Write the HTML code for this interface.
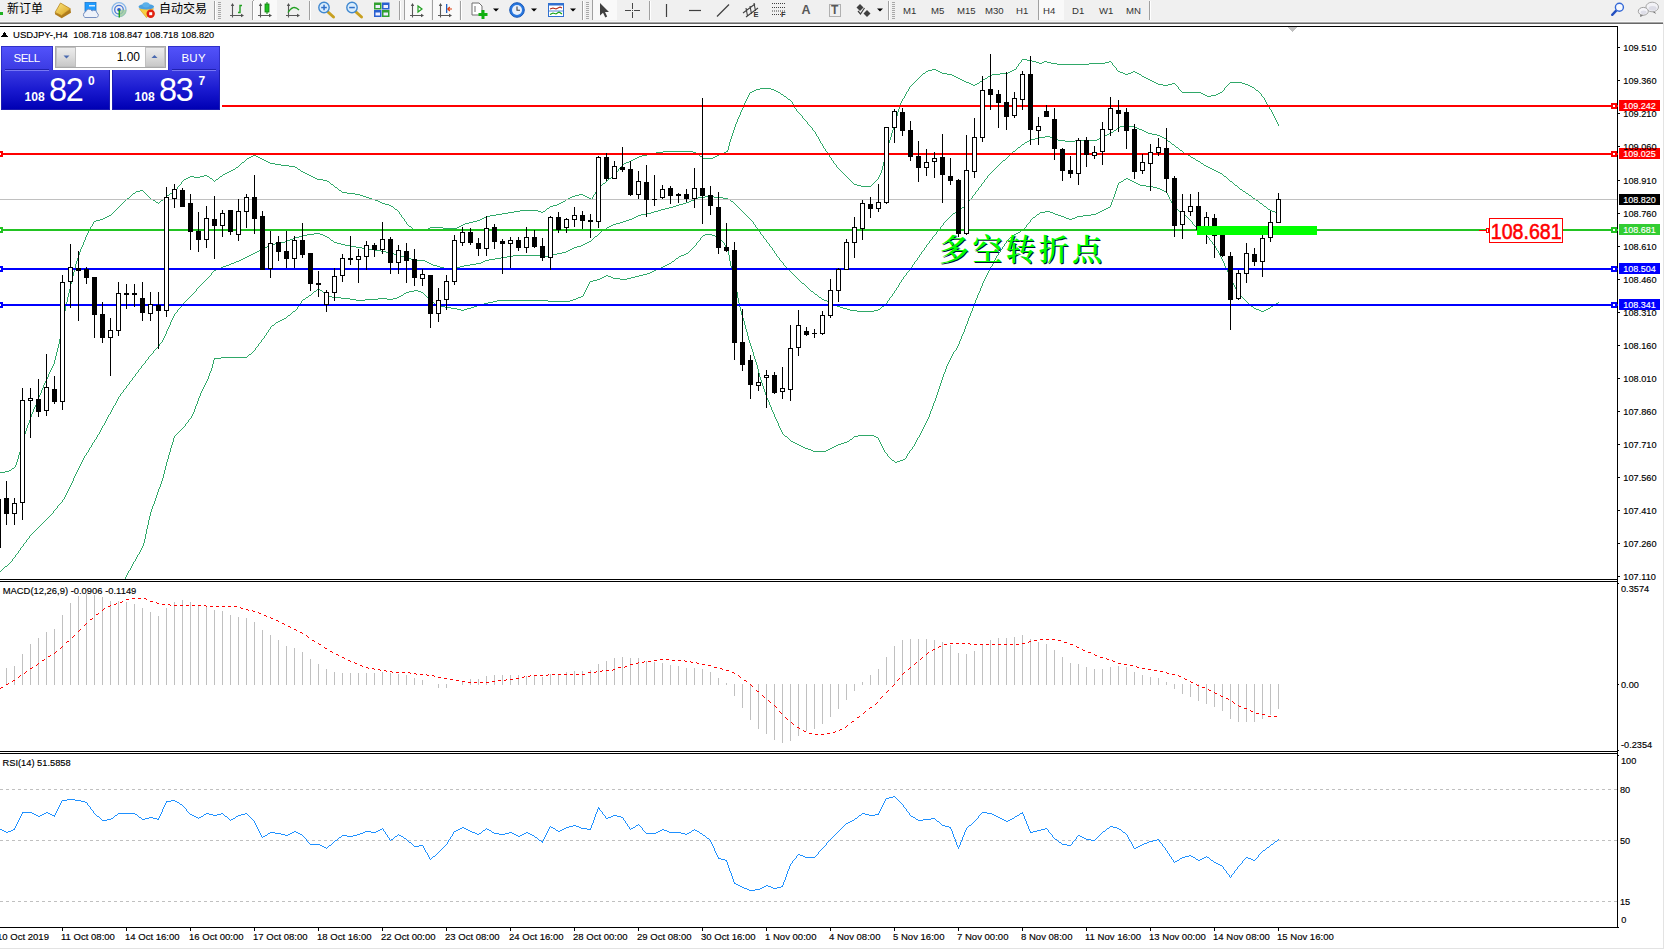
<!DOCTYPE html>
<html><head><meta charset="utf-8"><title>USDJPY-,H4</title>
<style>
html,body{margin:0;padding:0;background:#fff;}
body{width:1664px;height:950px;position:relative;overflow:hidden;font-family:"Liberation Sans","Noto Sans CJK SC",sans-serif;}
.chart{position:absolute;left:0;top:0;}
.chart text{white-space:pre;}

.tb{position:absolute;left:0;top:0;width:1664px;height:24px;background:#f0f0f0;}
.tb .l1{position:absolute;left:0;top:21px;width:1663px;height:1px;background:#f8f8f8;}
.tb .l2{position:absolute;left:0;top:22px;width:1663px;height:1px;background:#a6a6a6;}
.tb .l3{position:absolute;left:0;top:23px;width:1663px;height:1px;background:#686868;}
.tb span{position:absolute;white-space:pre;color:#000;}
.tb .cj{font-size:12px;top:1px;line-height:17px;font-family:"Liberation Sans","Noto Sans CJK SC",sans-serif;}
.tb .tf{font-size:9.6px;top:4px;line-height:13px;color:#333;}
.tb .sel{position:absolute;top:0;height:20px;background:#f9f9f9;border-left:1px solid #a0a0a0;box-sizing:border-box;}
.tbi{position:absolute;left:0;top:0;}
.edge-r{position:absolute;left:1663px;top:23px;width:1px;height:926px;background:#e3e3e3;}
.edge-b{position:absolute;left:0;top:948px;width:1664px;height:1px;background:#e3e3e3;}


.oc{position:absolute;left:0;top:44px;width:222px;height:67px;background:#fff;}
.oc div{position:absolute;box-sizing:border-box;}
.oc .tab{top:2px;height:25px;background:linear-gradient(#5252fa,#3a3ae2);border:1px solid #3030c8;border-bottom:none;}
.oc .big{top:26px;height:40px;background:linear-gradient(#3a3ae2,#1a1ad0 50%,#0000b4);border:1px solid #1c1cb0;border-top:none}
.oc .ul{height:1px;top:26px;background:#7878f4;}
.oc .ul0{height:1px;top:25px;background:#2020b0;}
.oc span{position:absolute;color:#fff;white-space:pre;line-height:1;}
.oc .lbl{font-size:11.5px;top:8.6px;letter-spacing:-0.5px;}
.oc .s108{font-size:12.1px;font-weight:bold;top:47.4px;}
.oc .big2{font-size:32.5px;top:29.7px;letter-spacing:-1.2px;}
.oc .sup{font-size:12px;font-weight:bold;top:31.1px;}
.oc .spin{left:55px;top:2px;width:111px;height:22px;border:1px solid #a8a8a8;background:#fff;}
.oc .btn{top:0px;width:20px;height:20px;background:linear-gradient(#ececec,#dcdcdc 50%,#c8c8c8);border:1px solid #c0c0c0;}
.oc .vol{position:absolute;right:25px;top:3.5px;font-size:12px;color:#000;}

</style></head><body>
<div class="tb"><div class="l1"></div><div class="l2"></div><div class="l3"></div><div class="sel" style="left:253px;width:24px"></div><div class="sel" style="left:404px;width:27px"></div><div class="sel" style="left:432px;width:27px"></div><div class="sel" style="left:592px;width:25px"></div><div class="sel" style="left:1038px;width:26px"></div><svg class="tbi" width="1664" height="22" viewBox="0 0 1664 22"><rect x="0" y="12" width="3" height="3" fill="#20b020"/><defs><linearGradient id="gb" x1="0" y1="0" x2="1" y2="1"><stop offset="0" stop-color="#fbe680"/><stop offset="1" stop-color="#d9a11c"/></linearGradient></defs><polygon points="55.1,12.4 61.5,15.3 70.4,8.8 71,12.8 61.7,18.3 55,14.2" fill="#b07c1c"/><polygon points="60.5,3 70.4,8.8 61.5,15.5 55.1,12.4" fill="url(#gb)" stroke="#b8861e" stroke-width="0.8"/><rect x="85" y="2.5" width="11" height="9" fill="#1e9bff" stroke="#1878d0" stroke-width="0.8"/><rect x="89" y="5" width="6" height="1.5" fill="#d8efff"/><path d="M85 17.5 a3 3 0 0 1 0.5 -5.5 a3.5 3.5 0 0 1 6.5 -1 a3 3 0 0 1 5 2 a2.4 2.4 0 0 1 -0.5 4.5 z" fill="#eef2fa" stroke="#7890c0" stroke-width="1"/><circle cx="119" cy="9.7" r="7" fill="none" stroke="#88b8e8" stroke-width="1.2"/><circle cx="119" cy="9.7" r="4.3" fill="none" stroke="#4878d8" stroke-width="1.3"/><path d="M119 9.7 L119 17.3 A7.6 7.6 0 0 0 126.6 9.7 Z" fill="#9ccc9c" opacity="0.8"/><circle cx="119" cy="9.7" r="1.8" fill="#2858d0"/><rect x="118.6" y="10" width="1.4" height="7.5" fill="#20a020"/><polygon points="139.3,8.7 153.6,8.7 146.5,17.7" fill="#f8d040" stroke="#d0a020" stroke-width="0.6"/><ellipse cx="146.3" cy="6.8" rx="7.8" ry="2.8" fill="#4aa0e0"/><ellipse cx="146" cy="4.8" rx="3.6" ry="2.6" fill="#5ab0ea"/><circle cx="150.7" cy="13.7" r="4.2" fill="#e02010"/><rect x="149.2" y="12.2" width="3" height="3" fill="#fff"/><rect x="214" y="1" width="1" height="19" fill="#a0a0a0"/><rect x="215" y="1" width="1" height="19" fill="#fff"/><rect x="218" y="2" width="3" height="1" fill="#a8a8a8"/><rect x="218" y="4" width="3" height="1" fill="#a8a8a8"/><rect x="218" y="6" width="3" height="1" fill="#a8a8a8"/><rect x="218" y="8" width="3" height="1" fill="#a8a8a8"/><rect x="218" y="10" width="3" height="1" fill="#a8a8a8"/><rect x="218" y="12" width="3" height="1" fill="#a8a8a8"/><rect x="218" y="14" width="3" height="1" fill="#a8a8a8"/><rect x="218" y="16" width="3" height="1" fill="#a8a8a8"/><rect x="218" y="18" width="3" height="1" fill="#a8a8a8"/><path d="M232.5 4.5 V17.5 M230 15.5 H243" stroke="#585858" stroke-width="1.1" fill="none"/><polygon points="232.5,3 230.8,6 234.2,6" fill="#505050"/><polygon points="244,15.5 241,13.8 241,17.2" fill="#505050"/><path d="M238 12.5 h2 V5.5 h2" stroke="#20a020" stroke-width="1.4" fill="none"/><rect x="252" y="1" width="1" height="19" fill="#a0a0a0"/><rect x="253" y="1" width="1" height="19" fill="#fff"/><path d="M260.5 4.5 V17.5 M258 15.5 H271" stroke="#585858" stroke-width="1.1" fill="none"/><polygon points="260.5,3 258.8,6 262.2,6" fill="#505050"/><polygon points="272,15.5 269,13.8 269,17.2" fill="#505050"/><rect x="265" y="4" width="4" height="8" fill="#20c020" stroke="#108010" stroke-width="0.8"/><path d="M267 2 v2 M267 12 v2" stroke="#108010" stroke-width="1"/><path d="M288.5 4.5 V17.5 M286 15.5 H299" stroke="#585858" stroke-width="1.1" fill="none"/><polygon points="288.5,3 286.8,6 290.2,6" fill="#505050"/><polygon points="300,15.5 297,13.8 297,17.2" fill="#505050"/><path d="M288 12.5 Q293 4 299 10" stroke="#20a020" stroke-width="1.3" fill="none"/><rect x="309" y="1" width="1" height="19" fill="#a0a0a0"/><rect x="310" y="1" width="1" height="19" fill="#fff"/><line x1="328" y1="12" x2="333.5" y2="17" stroke="#c8a020" stroke-width="3" stroke-linecap="round"/><circle cx="324" cy="7.5" r="5.2" fill="#d8ecfc" stroke="#4088d0" stroke-width="1.4"/><rect x="321.2" y="6.8" width="5.6" height="1.5" fill="#3070c8"/><rect x="323.3" y="4.7" width="1.5" height="5.6" fill="#3070c8"/><line x1="356" y1="12" x2="361.5" y2="17" stroke="#c8a020" stroke-width="3" stroke-linecap="round"/><circle cx="352" cy="7.5" r="5.2" fill="#d8ecfc" stroke="#4088d0" stroke-width="1.4"/><rect x="349.2" y="6.8" width="5.6" height="1.5" fill="#3070c8"/><rect x="374" y="2.5" width="7.5" height="7" fill="#30a030"/><rect x="382" y="2.5" width="7.5" height="7" fill="#2860d0"/><rect x="374" y="10" width="7.5" height="7" fill="#2860d0"/><rect x="382" y="10" width="7.5" height="7" fill="#30a030"/><rect x="375.5" y="5" width="4.5" height="3" fill="#eef"/><rect x="383.5" y="5" width="4.5" height="3" fill="#eef"/><rect x="375.5" y="12.5" width="4.5" height="3" fill="#eef"/><rect x="383.5" y="12.5" width="4.5" height="3" fill="#eef"/><rect x="399" y="1" width="1" height="19" fill="#a0a0a0"/><rect x="400" y="1" width="1" height="19" fill="#fff"/><path d="M412.5 4.5 V17.5 M410 15.5 H423" stroke="#585858" stroke-width="1.1" fill="none"/><polygon points="412.5,3 410.8,6 414.2,6" fill="#505050"/><polygon points="424,15.5 421,13.8 421,17.2" fill="#505050"/><polygon points="418,6 418,12 422,9" fill="none" stroke="#20a020" stroke-width="1.2"/><path d="M440.5 4.5 V17.5 M438 15.5 H451" stroke="#585858" stroke-width="1.1" fill="none"/><polygon points="440.5,3 438.8,6 442.2,6" fill="#505050"/><polygon points="452,15.5 449,13.8 449,17.2" fill="#505050"/><rect x="446" y="4" width="1.3" height="9" fill="#2060c0"/><path d="M452 9 h-4 m1.8 -2 l-2 2 l2 2" stroke="#e04010" stroke-width="1.2" fill="none"/><rect x="460" y="1" width="1" height="19" fill="#a0a0a0"/><rect x="461" y="1" width="1" height="19" fill="#fff"/><path d="M472 3 h7 l3 3 v9 h-10 z" fill="#fff" stroke="#707070" stroke-width="1"/><path d="M475 6 v6" stroke="#707070"/><path d="M483 10 v9 M478.5 14.5 h9" stroke="#10b010" stroke-width="3"/><polygon points="493,8.5 499,8.5 496,11.5" fill="#000"/><circle cx="517" cy="10" r="7.3" fill="#2878e0" stroke="#1858b8" stroke-width="1"/><circle cx="517" cy="10" r="5" fill="#e8f0fc"/><path d="M517 6.5 v3.8 h3" stroke="#404040" stroke-width="1.1" fill="none"/><polygon points="531,8.5 537,8.5 534,11.5" fill="#000"/><rect x="548.5" y="3.5" width="15" height="13" fill="#fff" stroke="#3070d0" stroke-width="1"/><rect x="548" y="3" width="16" height="2.5" fill="#3070d0"/><path d="M550 9 l3 -1 l3 1 l4 -2 l2 1" stroke="#b02010" stroke-width="1.1" fill="none"/><path d="M550 14.5 l3 -1.5 l3 1 l3 -2 l3 2" stroke="#10a010" stroke-width="1.1" fill="none"/><path d="M549 11 h14" stroke="#3070d0" stroke-width="0.8"/><polygon points="570,8.5 576,8.5 573,11.5" fill="#000"/><rect x="582" y="1" width="1" height="19" fill="#a0a0a0"/><rect x="583" y="1" width="1" height="19" fill="#fff"/><rect x="586" y="2" width="3" height="1" fill="#a8a8a8"/><rect x="586" y="4" width="3" height="1" fill="#a8a8a8"/><rect x="586" y="6" width="3" height="1" fill="#a8a8a8"/><rect x="586" y="8" width="3" height="1" fill="#a8a8a8"/><rect x="586" y="10" width="3" height="1" fill="#a8a8a8"/><rect x="586" y="12" width="3" height="1" fill="#a8a8a8"/><rect x="586" y="14" width="3" height="1" fill="#a8a8a8"/><rect x="586" y="16" width="3" height="1" fill="#a8a8a8"/><rect x="586" y="18" width="3" height="1" fill="#a8a8a8"/><polygon points="600,3 600,15.5 603,12.8 605.3,17.5 607.2,16.6 605,12 609,12" fill="#404040"/><path d="M632.5 3 v6 M632.5 12 v6 M625 10.5 h6 M634 10.5 h6" stroke="#484848" stroke-width="1"/><rect x="632" y="10" width="1" height="1" fill="#484848"/><rect x="649" y="1" width="1" height="19" fill="#a0a0a0"/><rect x="650" y="1" width="1" height="19" fill="#fff"/><path d="M666.5 4 v13" stroke="#404040" stroke-width="1.2"/><path d="M689 10.5 h12" stroke="#404040" stroke-width="1.2"/><path d="M717 16.5 l12 -12" stroke="#404040" stroke-width="1.2"/><path d="M743 13 l12 -9 M746 17 l12 -9 M746 8 l1.5 8 M750 6 l1.5 8 M754 3 l1.5 8" stroke="#404040" stroke-width="1.1"/><path d="M772 3.5 h14 M772 7.5 h14 M772 11 h14 M772 14.5 h9" stroke="#404040" stroke-width="1" stroke-dasharray="1 1"/><path d="M829.5 4.5 h11 v12 h-11 z" fill="none" stroke="#707070" stroke-width="1" stroke-dasharray="1 1"/><polygon points="860,4 863.5,7.5 860,11 856.5,7.5" fill="#404040"/><polygon points="867,10 870.5,13.5 867,17 863.5,13.5" fill="#404040"/><path d="M858 11 l2.5 3 l4 -6" stroke="#404040" stroke-width="1.2" fill="none"/><polygon points="877,8.5 883,8.5 880,11.5" fill="#000"/><rect x="888" y="1" width="1" height="19" fill="#a0a0a0"/><rect x="889" y="1" width="1" height="19" fill="#fff"/><rect x="892" y="2" width="3" height="1" fill="#a8a8a8"/><rect x="892" y="4" width="3" height="1" fill="#a8a8a8"/><rect x="892" y="6" width="3" height="1" fill="#a8a8a8"/><rect x="892" y="8" width="3" height="1" fill="#a8a8a8"/><rect x="892" y="10" width="3" height="1" fill="#a8a8a8"/><rect x="892" y="12" width="3" height="1" fill="#a8a8a8"/><rect x="892" y="14" width="3" height="1" fill="#a8a8a8"/><rect x="892" y="16" width="3" height="1" fill="#a8a8a8"/><rect x="892" y="18" width="3" height="1" fill="#a8a8a8"/><rect x="1149" y="1" width="1" height="19" fill="#a0a0a0"/><rect x="1150" y="1" width="1" height="19" fill="#fff"/><line x1="1616.4" y1="10.4" x2="1612.2" y2="14.8" stroke="#2450c0" stroke-width="2.4" stroke-linecap="round"/><circle cx="1619.4" cy="7.2" r="4" fill="#f6f9ff" stroke="#3468d6" stroke-width="1.4"/><polygon points="1654,10.5 1656.2,14 1651.8,11.5" fill="#707070"/><ellipse cx="1652.2" cy="7" rx="6.3" ry="4.8" fill="#f2f2f6" stroke="#a8a8a8" stroke-width="1"/><ellipse cx="1652.6" cy="8.3" rx="4" ry="2.4" fill="#dcdce6"/><polygon points="1640.2,13.5 1640.3,17 1644,15" fill="#707070"/><ellipse cx="1643.3" cy="11.3" rx="5" ry="3.9" fill="#f4f4f8" stroke="#a0a0a0" stroke-width="1"/><ellipse cx="1643.6" cy="12.3" rx="3" ry="1.8" fill="#dedee8"/></svg><span class="cj" style="left:7px">新订单</span><span class="cj" style="left:159px">自动交易</span><span style="left:801.5px;top:2px;font-size:12.5px;line-height:17px;color:#585858;font-weight:bold">A</span><span style="left:831px;top:3px;font-size:12px;line-height:15px;color:#585858;font-weight:bold">T</span><span style="left:753.5px;top:11px;font-size:7.5px;line-height:8px;color:#303030;font-weight:bold">E</span><span style="left:781px;top:11px;font-size:7.5px;line-height:8px;color:#303030;font-weight:bold">F</span><span class="tf" style="left:903px">M1</span><span class="tf" style="left:931px">M5</span><span class="tf" style="left:957px">M15</span><span class="tf" style="left:985px">M30</span><span class="tf" style="left:1016px">H1</span><span class="tf" style="left:1043px">H4</span><span class="tf" style="left:1072px">D1</span><span class="tf" style="left:1099px">W1</span><span class="tf" style="left:1126px">MN</span></div><div class="edge-r"></div><div class="edge-b"></div>
<svg class="chart" width="1664" height="950" viewBox="0 0 1664 950"><g shape-rendering="crispEdges"><rect x="0" y="26" width="1618" height="1" fill="#000"/>
<rect x="1617" y="26" width="1" height="902" fill="#000"/>
<rect x="0" y="579" width="1618" height="1" fill="#000"/>
<rect x="0" y="581" width="1618" height="1" fill="#000"/>
<rect x="0" y="751" width="1618" height="1" fill="#000"/>
<rect x="0" y="753" width="1618" height="1" fill="#000"/>
<rect x="0" y="927" width="1618" height="1" fill="#000"/>
<polygon points="1287,27 1297,27 1292,32" fill="#c0c0c0"/>
<path d="M1057 64h32v1h-32zM947 74h5v1h-5zM992 74h8v1h-8zM1125 74h3v1h-3zM1139 74h2v1h-2zM430 227h13v1h-13zM457 227h2v1h-2zM270 163h5v1h-5zM624 163h2v1h-2zM133 193h2v1h-2zM170 193h2v1h-2zM347 193h8v1h-8zM520 210h18v1h-18zM750 92h2v1h-2zM778 92h2v1h-2zM1182 92h19v1h-19zM1220 92h2v1h-2zM969 83h2v1h-2zM977 83h2v1h-2zM1156 83h2v1h-2zM1172 83h3v1h-3zM1242 83h3v1h-3zM1201 93h2v1h-2zM1218 93h2v1h-2zM784 96h2v1h-2zM1207 96h4v1h-4zM756 89h4v1h-4zM771 89h3v1h-3zM262 159h2v1h-2zM633 159h2v1h-2zM928 70h4v1h-4zM936 70h2v1h-2zM1012 70h2v1h-2zM1205 95h2v1h-2zM1211 95h5v1h-5zM225 173h2v1h-2zM305 173h2v1h-2zM233 169h2v1h-2zM298 169h2v1h-2zM96 220h4v1h-4zM477 220h3v1h-3zM153 200h2v1h-2zM161 200h2v1h-2zM375 200h3v1h-3zM428 228h2v1h-2zM443 228h14v1h-14zM289 166h6v1h-6zM940 72h2v1h-2zM1008 72h2v1h-2zM1120 72h3v1h-3zM1131 72h2v1h-2zM1135 72h2v1h-2zM266 161h2v1h-2zM629 161h2v1h-2zM391 206h2v1h-2zM550 206h3v1h-3zM923 73h2v1h-2zM942 73h5v1h-5zM1000 73h8v1h-8zM1123 73h2v1h-2zM1128 73h3v1h-3zM1137 73h2v1h-2zM242 162h2v1h-2zM268 162h2v1h-2zM626 162h3v1h-3zM186 178h2v1h-2zM210 178h2v1h-2zM315 178h2v1h-2zM609 178h2v1h-2zM1032 61h4v1h-4zM1044 61h3v1h-3zM1109 61h2v1h-2zM275 164h6v1h-6zM1036 62h3v1h-3zM1042 62h2v1h-2zM1047 62h4v1h-4zM1105 62h4v1h-4zM366 197h3v1h-3zM570 197h2v1h-2zM587 197h2v1h-2zM954 76h2v1h-2zM988 76h2v1h-2zM1142 76h2v1h-2zM355 194h5v1h-5zM579 194h4v1h-4zM971 84h2v1h-2zM975 84h2v1h-2zM1158 84h5v1h-5zM1168 84h4v1h-4zM1245 84h3v1h-3zM247 158h2v1h-2zM260 158h2v1h-2zM635 158h2v1h-2zM703 158h10v1h-10zM0 472h5v1h-5zM973 85h2v1h-2zM1163 85h5v1h-5zM1248 85h2v1h-2zM94 221h2v1h-2zM473 221h4v1h-4zM382 203h3v1h-3zM559 203h2v1h-2zM103 218h2v1h-2zM482 218h2v1h-2zM760 88h11v1h-11zM140 190h3v1h-3zM339 190h2v1h-2zM508 212h6v1h-6zM541 212h2v1h-2zM861 186h10v1h-10zM651 153h5v1h-5zM696 153h2v1h-2zM721 153h3v1h-3zM281 165h8v1h-8zM754 90h2v1h-2zM774 90h2v1h-2zM1256 90h2v1h-2zM188 177h2v1h-2zM194 177h6v1h-6zM313 177h2v1h-2zM229 171h2v1h-2zM301 171h2v1h-2zM788 99h2v1h-2zM781 94h2v1h-2zM1203 94h2v1h-2zM1216 94h2v1h-2zM385 204h4v1h-4zM557 204h2v1h-2zM151 199h2v1h-2zM372 199h3v1h-3zM566 199h2v1h-2zM656 152h7v1h-7zM693 152h3v1h-3zM724 152h2v1h-2zM966 82h3v1h-3zM1154 82h2v1h-2zM1230 82h12v1h-12zM1022 59h5v1h-5zM952 75h2v1h-2zM990 75h2v1h-2zM342 192h5v1h-5zM253 155h3v1h-3zM642 155h5v1h-5zM717 155h2v1h-2zM236 167h2v1h-2zM295 167h2v1h-2zM156 202h2v1h-2zM380 202h2v1h-2zM561 202h2v1h-2zM190 176h4v1h-4zM200 176h4v1h-4zM207 176h2v1h-2zM220 176h2v1h-2zM311 176h2v1h-2zM413 229h15v1h-15zM926 71h2v1h-2zM938 71h2v1h-2zM1010 71h2v1h-2zM1118 71h2v1h-2zM1133 71h2v1h-2zM409 226h2v1h-2zM459 226h2v1h-2zM663 151h30v1h-30zM726 151h2v1h-2zM1027 60h5v1h-5zM857 185h4v1h-4zM1039 63h3v1h-3zM1051 63h6v1h-6zM1089 63h16v1h-16zM223 174h2v1h-2zM307 174h2v1h-2zM964 81h2v1h-2zM980 81h2v1h-2zM1152 81h2v1h-2zM958 78h2v1h-2zM985 78h2v1h-2zM1146 78h2v1h-2zM5 471h4v1h-4zM378 201h2v1h-2zM563 201h2v1h-2zM514 211h6v1h-6zM538 211h3v1h-3zM543 211h2v1h-2zM463 224h2v1h-2zM502 213h6v1h-6zM496 214h6v1h-6zM167 195h2v1h-2zM360 195h3v1h-3zM575 195h4v1h-4zM583 195h2v1h-2zM647 154h4v1h-4zM719 154h2v1h-2zM363 196h3v1h-3zM572 196h3v1h-3zM585 196h2v1h-2zM127 198h2v1h-2zM369 198h3v1h-3zM568 198h2v1h-2zM589 198h2v1h-2zM231 170h2v1h-2zM331 184h2v1h-2zM854 184h3v1h-3zM962 80h2v1h-2zM1150 80h2v1h-2zM327 181h2v1h-2zM547 208h2v1h-2zM461 225h2v1h-2zM107 216h2v1h-2zM486 216h4v1h-4zM100 219h3v1h-3zM480 219h2v1h-2zM603 183h2v1h-2zM249 157h2v1h-2zM258 157h2v1h-2zM637 157h2v1h-2zM713 157h2v1h-2zM264 160h2v1h-2zM631 160h2v1h-2zM136 191h4v1h-4zM173 191h2v1h-2zM105 217h2v1h-2zM484 217h2v1h-2zM465 223h4v1h-4zM335 187h2v1h-2zM109 215h2v1h-2zM490 215h6v1h-6zM960 79h2v1h-2zM983 79h2v1h-2zM1148 79h2v1h-2zM469 222h4v1h-4zM932 69h4v1h-4zM1014 69h2v1h-2zM12 468h2v1h-2zM204 175h3v1h-3zM309 175h2v1h-2zM323 180h4v1h-4zM251 156h2v1h-2zM256 156h2v1h-2zM639 156h3v1h-3zM700 156h2v1h-2zM715 156h2v1h-2zM1250 86h2v1h-2zM1252 87h2v1h-2zM184 179h2v1h-2zM216 179h2v1h-2zM317 179h6v1h-6zM752 91h2v1h-2zM776 91h2v1h-2zM227 172h2v1h-2zM303 172h2v1h-2zM389 205h2v1h-2zM553 205h4v1h-4zM956 77h2v1h-2zM1144 77h2v1h-2zM395 209h2v1h-2zM9 470h2v1h-2zM67 297h1v5h-1zM746 99h1v2h-1zM733 130h1v3h-1zM30 417h1v3h-1zM893 127h1v3h-1zM21 445h1v3h-1zM33 409h1v3h-1zM802 116h1v2h-1zM881 170h1v3h-1zM146 194h1v1h-1zM75 264h1v4h-1zM698 154h1v1h-1zM93 222h1v2h-1zM49 372h1v2h-1zM63 317h1v5h-1zM1255 89h1v1h-1zM1276 120h1v2h-1zM181 182h1v2h-1zM888 143h1v4h-1zM72 276h1v4h-1zM404 219h1v2h-1zM411 227h1v1h-1zM1277 122h1v2h-1zM42 388h1v2h-1zM835 164h1v1h-1zM892 130h1v3h-1zM877 179h1v1h-1zM54 360h1v4h-1zM1266 102h1v2h-1zM913 83h1v1h-1zM115 210h1v1h-1zM1112 63h1v2h-1zM71 280h1v4h-1zM780 93h1v1h-1zM1262 96h1v1h-1zM1179 89h1v1h-1zM1224 88h1v2h-1zM246 159h1v1h-1zM34 407h1v2h-1zM87 233h1v2h-1zM884 159h1v3h-1zM58 344h1v4h-1zM729 142h1v4h-1zM741 110h1v2h-1zM215 180h1v1h-1zM62 322h1v6h-1zM1016 67h1v2h-1zM403 218h1v1h-1zM66 302h1v4h-1zM165 197h1v1h-1zM131 195h1v1h-1zM594 194h1v1h-1zM29 420h1v3h-1zM618 169h1v2h-1zM407 224h1v1h-1zM135 192h1v1h-1zM57 348h1v4h-1zM883 162h1v4h-1zM812 128h1v2h-1zM820 141h1v2h-1zM25 431h1v3h-1zM84 240h1v2h-1zM896 116h1v4h-1zM1273 114h1v2h-1zM24 434h1v4h-1zM1111 62h1v1h-1zM1141 75h1v1h-1zM813 130h1v1h-1zM920 76h1v1h-1zM1269 107h1v2h-1zM748 95h1v2h-1zM176 189h1v1h-1zM179 185h1v1h-1zM17 459h1v3h-1zM838 168h1v1h-1zM41 390h1v3h-1zM70 284h1v5h-1zM53 364h1v2h-1zM83 242h1v3h-1zM219 177h1v1h-1zM801 115h1v1h-1zM917 79h1v1h-1zM737 119h1v3h-1zM621 166h1v1h-1zM872 184h1v1h-1zM61 328h1v5h-1zM169 194h1v1h-1zM728 146h1v4h-1zM740 112h1v3h-1zM845 175h1v1h-1zM16 462h1v3h-1zM40 393h1v2h-1zM816 134h1v2h-1zM122 203h1v1h-1zM837 167h1v1h-1zM1261 94h1v2h-1zM745 101h1v2h-1zM1178 87h1v2h-1zM1272 112h1v2h-1zM20 448h1v4h-1zM880 173h1v2h-1zM32 412h1v2h-1zM790 100h1v1h-1zM899 105h1v4h-1zM1265 100h1v2h-1zM613 175h1v1h-1zM794 106h1v2h-1zM602 184h1v1h-1zM48 374h1v3h-1zM28 423h1v2h-1zM90 227h1v2h-1zM1019 63h1v1h-1zM1228 84h1v1h-1zM597 190h1v1h-1zM891 133h1v4h-1zM406 222h1v2h-1zM895 120h1v3h-1zM23 438h1v3h-1zM149 197h1v1h-1zM1223 90h1v1h-1zM163 199h1v1h-1zM1226 86h1v1h-1zM74 268h1v4h-1zM86 235h1v2h-1zM823 146h1v2h-1zM1275 118h1v2h-1zM1113 65h1v1h-1zM815 132h1v2h-1zM912 84h1v1h-1zM786 97h1v1h-1zM887 147h1v4h-1zM52 366h1v2h-1zM732 133h1v3h-1zM819 139h1v2h-1zM1268 106h1v1h-1zM1177 86h1v1h-1zM65 306h1v5h-1zM1271 110h1v2h-1zM82 245h1v2h-1zM1114 66h1v1h-1zM56 352h1v4h-1zM739 115h1v2h-1zM1264 98h1v2h-1zM852 182h1v1h-1zM11 469h1v1h-1zM793 104h1v2h-1zM73 272h1v4h-1zM126 199h1v1h-1zM148 196h1v1h-1zM844 174h1v1h-1zM886 151h1v4h-1zM804 119h1v1h-1zM27 425h1v3h-1zM18 455h1v4h-1zM744 103h1v2h-1zM565 200h1v1h-1zM915 81h1v1h-1zM747 97h1v2h-1zM31 414h1v3h-1zM69 289h1v4h-1zM822 144h1v2h-1zM851 181h1v1h-1zM47 377h1v2h-1zM882 166h1v4h-1zM623 164h1v1h-1zM36 402h1v3h-1zM874 182h1v1h-1zM60 333h1v6h-1zM89 229h1v2h-1zM1018 64h1v2h-1zM1267 104h1v2h-1zM175 190h1v1h-1zM796 109h1v2h-1zM64 311h1v6h-1zM239 165h1v1h-1zM593 195h1v2h-1zM78 255h1v3h-1zM987 77h1v1h-1zM15 465h1v2h-1zM39 395h1v2h-1zM797 111h1v1h-1zM19 452h1v3h-1zM620 167h1v1h-1zM338 189h1v1h-1zM727 150h1v1h-1zM55 356h1v4h-1zM117 208h1v1h-1zM85 237h1v3h-1zM731 136h1v3h-1zM183 180h1v1h-1zM922 74h1v1h-1zM615 173h1v1h-1zM825 149h1v2h-1zM807 122h1v2h-1zM68 293h1v4h-1zM1021 60h1v2h-1zM818 137h1v2h-1zM738 117h1v2h-1zM608 179h1v1h-1zM178 186h1v1h-1zM821 143h1v1h-1zM829 155h1v2h-1zM894 123h1v4h-1zM885 155h1v4h-1zM59 339h1v5h-1zM1274 116h1v2h-1zM979 82h1v1h-1zM1116 68h1v2h-1zM919 77h1v1h-1zM337 188h1v1h-1zM213 180h1v1h-1zM814 131h1v1h-1zM1263 97h1v1h-1zM1180 90h1v1h-1zM792 102h1v2h-1zM546 209h1v1h-1zM22 441h1v4h-1zM910 86h1v1h-1zM743 105h1v3h-1zM795 108h1v1h-1zM902 99h1v2h-1zM26 428h1v3h-1zM596 191h1v1h-1zM77 258h1v3h-1zM735 124h1v3h-1zM158 203h1v1h-1zM124 201h1v1h-1zM51 368h1v2h-1zM897 112h1v4h-1zM81 247h1v2h-1zM906 92h1v2h-1zM408 225h1v1h-1zM1222 91h1v1h-1zM212 179h1v1h-1zM300 170h1v1h-1zM38 397h1v3h-1zM824 148h1v1h-1zM730 139h1v3h-1zM592 197h1v2h-1zM333 185h1v1h-1zM890 137h1v3h-1zM76 261h1v3h-1zM817 136h1v1h-1zM734 127h1v3h-1zM112 213h1v1h-1zM334 186h1v1h-1zM828 154h1v1h-1zM1270 109h1v1h-1zM143 191h1v1h-1zM80 249h1v3h-1zM839 169h1v1h-1zM791 101h1v1h-1zM43 385h1v3h-1zM599 187h1v1h-1zM46 379h1v2h-1zM898 109h1v3h-1zM1225 87h1v1h-1zM914 82h1v1h-1zM397 210h1v1h-1zM846 176h1v1h-1zM177 187h1v2h-1zM909 87h1v2h-1zM119 206h1v1h-1zM853 183h1v1h-1zM832 160h1v1h-1zM606 181h1v1h-1zM889 140h1v3h-1zM1115 67h1v1h-1zM92 224h1v2h-1zM905 94h1v2h-1zM799 113h1v1h-1zM749 93h1v2h-1zM37 400h1v2h-1zM329 182h1v1h-1zM150 198h1v1h-1zM921 75h1v1h-1zM805 120h1v1h-1zM876 180h1v1h-1zM88 231h1v2h-1zM742 108h1v2h-1zM806 121h1v1h-1zM241 163h1v1h-1zM827 152h1v2h-1zM901 101h1v2h-1zM1020 62h1v1h-1zM787 98h1v1h-1zM736 122h1v2h-1zM595 192h1v2h-1zM831 158h1v2h-1zM622 165h1v1h-1zM45 381h1v2h-1zM160 201h1v1h-1zM545 210h1v1h-1zM393 207h1v1h-1zM50 370h1v2h-1zM798 112h1v1h-1zM123 202h1v1h-1zM79 252h1v3h-1zM879 175h1v2h-1zM180 184h1v1h-1zM114 211h1v1h-1zM925 72h1v1h-1zM783 95h1v1h-1zM400 214h1v1h-1zM245 160h1v1h-1zM598 188h1v2h-1zM826 151h1v1h-1zM214 181h1v1h-1zM111 214h1v1h-1zM238 166h1v1h-1zM904 96h1v2h-1zM164 198h1v1h-1zM1258 91h1v1h-1zM1175 84h1v1h-1zM218 178h1v1h-1zM617 171h1v1h-1zM1117 70h1v1h-1zM916 80h1v1h-1zM702 157h1v1h-1zM871 185h1v1h-1zM1181 91h1v1h-1zM222 175h1v1h-1zM130 196h1v1h-1zM841 171h1v1h-1zM399 212h1v2h-1zM908 89h1v2h-1zM172 192h1v1h-1zM842 172h1v1h-1zM900 103h1v2h-1zM44 383h1v2h-1zM808 124h1v1h-1zM601 185h1v1h-1zM830 157h1v1h-1zM849 179h1v1h-1zM833 161h1v2h-1zM118 207h1v1h-1zM834 163h1v1h-1zM1227 85h1v1h-1zM144 192h1v1h-1zM878 177h1v2h-1zM840 170h1v1h-1zM145 193h1v1h-1zM398 211h1v1h-1zM35 405h1v2h-1zM612 176h1v1h-1zM402 217h1v1h-1zM121 204h1v1h-1zM1254 88h1v1h-1zM847 177h1v1h-1zM848 178h1v1h-1zM605 182h1v1h-1zM91 226h1v1h-1zM875 181h1v1h-1zM209 177h1v1h-1zM240 164h1v1h-1zM800 114h1v1h-1zM244 161h1v1h-1zM911 85h1v1h-1zM132 194h1v1h-1zM1278 124h1v2h-1zM14 467h1v1h-1zM836 165h1v2h-1zM616 172h1v1h-1zM125 200h1v1h-1zM155 201h1v1h-1zM394 208h1v1h-1zM116 209h1v1h-1zM182 181h1v1h-1zM297 168h1v1h-1zM907 91h1v1h-1zM401 215h1v2h-1zM330 183h1v1h-1zM1017 66h1v1h-1zM113 212h1v1h-1zM166 196h1v1h-1zM1229 83h1v1h-1zM918 78h1v1h-1zM903 98h1v1h-1zM873 183h1v1h-1zM159 202h1v1h-1zM619 168h1v1h-1zM549 207h1v1h-1zM811 127h1v1h-1zM129 197h1v1h-1zM1259 92h1v1h-1zM1260 93h1v1h-1zM607 180h1v1h-1zM147 195h1v1h-1zM843 173h1v1h-1zM611 177h1v1h-1zM120 205h1v1h-1zM600 186h1v1h-1zM803 118h1v1h-1zM341 191h1v1h-1zM699 155h1v1h-1zM809 125h1v1h-1zM405 221h1v1h-1zM810 126h1v1h-1zM982 80h1v1h-1zM1176 85h1v1h-1zM850 180h1v1h-1zM614 174h1v1h-1zM412 228h1v1h-1zM235 168h1v1h-1zM591 199h1v1h-1z" fill="#2fa868"/>
<path d="M247 256h2v1h-2zM401 256h3v1h-3zM507 256h6v1h-6zM544 256h4v1h-4zM698 197h7v1h-7zM714 197h9v1h-9zM616 223h4v1h-4zM229 264h2v1h-2zM431 264h2v1h-2zM470 264h6v1h-6zM271 244h4v1h-4zM341 244h4v1h-4zM583 244h2v1h-2zM857 311h17v1h-17zM1029 140h2v1h-2zM1058 140h7v1h-7zM1075 140h22v1h-22zM249 255h2v1h-2zM398 255h3v1h-3zM513 255h27v1h-27zM548 255h4v1h-4zM267 246h2v1h-2zM350 246h6v1h-6zM577 246h4v1h-4zM243 258h2v1h-2zM407 258h4v1h-4zM495 258h6v1h-6zM676 205h3v1h-3zM269 245h2v1h-2zM345 245h5v1h-5zM581 245h2v1h-2zM221 267h2v1h-2zM440 267h4v1h-4zM452 267h8v1h-8zM824 300h3v1h-3zM1013 151h2v1h-2zM1191 157h2v1h-2zM253 253h2v1h-2zM390 253h4v1h-4zM557 253h5v1h-5zM641 214h6v1h-6zM837 306h3v1h-3zM882 306h2v1h-2zM636 216h2v1h-2zM290 239h3v1h-3zM629 219h3v1h-3zM245 257h2v1h-2zM404 257h3v1h-3zM501 257h6v1h-6zM541 257h3v1h-3zM1114 130h2v1h-2zM1142 130h2v1h-2zM611 225h2v1h-2zM263 248h2v1h-2zM362 248h6v1h-6zM572 248h2v1h-2zM239 260h2v1h-2zM415 260h10v1h-10zM485 260h4v1h-4zM689 201h2v1h-2zM731 201h2v1h-2zM1240 189h2v1h-2zM265 247h2v1h-2zM356 247h6v1h-6zM574 247h3v1h-3zM658 210h3v1h-3zM958 210h2v1h-2zM1270 210h2v1h-2zM623 221h3v1h-3zM299 236h4v1h-4zM325 236h2v1h-2zM595 236h2v1h-2zM1186 154h2v1h-2zM281 242h4v1h-4zM334 242h3v1h-3zM587 242h2v1h-2zM1107 134h2v1h-2zM1152 134h5v1h-5zM829 302h2v1h-2zM705 196h9v1h-9zM822 299h2v1h-2zM218 268h3v1h-3zM444 268h8v1h-8zM850 310h7v1h-7zM874 310h4v1h-4zM307 234h7v1h-7zM320 234h3v1h-3zM654 211h4v1h-4zM1272 211h3v1h-3zM1235 185h2v1h-2zM696 198h2v1h-2zM723 198h5v1h-5zM1253 198h2v1h-2zM236 261h3v1h-3zM425 261h2v1h-2zM483 261h2v1h-2zM295 237h4v1h-4zM327 237h2v1h-2zM679 204h4v1h-4zM287 240h3v1h-3zM331 240h2v1h-2zM285 241h2v1h-2zM589 241h2v1h-2zM257 251h2v1h-2zM381 251h5v1h-5zM566 251h2v1h-2zM1035 138h4v1h-4zM1053 138h2v1h-2zM1099 138h2v1h-2zM1164 138h2v1h-2zM609 226h2v1h-2zM255 252h2v1h-2zM386 252h4v1h-4zM562 252h4v1h-4zM1031 139h4v1h-4zM1055 139h3v1h-3zM1097 139h2v1h-2zM1105 135h2v1h-2zM1157 135h3v1h-3zM691 200h3v1h-3zM1256 200h2v1h-2zM261 249h2v1h-2zM368 249h7v1h-7zM570 249h2v1h-2zM1027 141h2v1h-2zM1065 141h10v1h-10zM1168 141h2v1h-2zM665 208h4v1h-4zM1045 136h5v1h-5zM1103 136h2v1h-2zM1160 136h2v1h-2zM811 291h2v1h-2zM214 270h2v1h-2zM673 206h3v1h-3zM1264 206h2v1h-2zM241 259h2v1h-2zM411 259h4v1h-4zM489 259h6v1h-6zM1120 126h15v1h-15zM661 209h4v1h-4zM1268 209h2v1h-2zM223 266h3v1h-3zM437 266h3v1h-3zM460 266h4v1h-4zM832 304h2v1h-2zM1109 133h2v1h-2zM1148 133h4v1h-4zM226 265h3v1h-3zM433 265h4v1h-4zM464 265h6v1h-6zM602 230h2v1h-2zM638 215h3v1h-3zM819 297h2v1h-2zM293 238h2v1h-2zM216 269h2v1h-2zM620 222h3v1h-3zM651 212h3v1h-3zM955 212h2v1h-2zM1275 212h2v1h-2zM1139 129h3v1h-3zM251 254h2v1h-2zM394 254h4v1h-4zM552 254h5v1h-5zM1180 150h2v1h-2zM815 294h2v1h-2zM259 250h2v1h-2zM375 250h6v1h-6zM568 250h2v1h-2zM669 207h4v1h-4zM962 207h2v1h-2zM234 262h2v1h-2zM427 262h2v1h-2zM481 262h2v1h-2zM1214 170h2v1h-2zM1039 137h6v1h-6zM1050 137h3v1h-3zM1101 137h2v1h-2zM1162 137h2v1h-2zM632 218h2v1h-2zM1018 147h2v1h-2zM1176 147h2v1h-2zM231 263h3v1h-3zM429 263h2v1h-2zM476 263h5v1h-5zM694 199h2v1h-2zM728 199h2v1h-2zM1111 132h2v1h-2zM1146 132h2v1h-2zM1201 163h2v1h-2zM275 243h6v1h-6zM337 243h4v1h-4zM585 243h2v1h-2zM1184 153h2v1h-2zM1022 144h2v1h-2zM1172 144h2v1h-2zM607 227h2v1h-2zM1218 172h2v1h-2zM686 202h3v1h-3zM1144 131h2v1h-2zM647 213h4v1h-4zM953 213h2v1h-2zM626 220h3v1h-3zM847 309h3v1h-3zM878 309h2v1h-2zM834 305h3v1h-3zM802 283h2v1h-2zM1230 181h2v1h-2zM314 233h6v1h-6zM303 235h4v1h-4zM323 235h2v1h-2zM1118 127h2v1h-2zM1135 127h2v1h-2zM1204 165h2v1h-2zM843 308h4v1h-4zM1003 160h2v1h-2zM1196 160h2v1h-2zM1212 169h2v1h-2zM1206 166h2v1h-2zM1137 128h2v1h-2zM1220 173h2v1h-2zM1249 195h2v1h-2zM840 307h3v1h-3zM1224 176h2v1h-2zM683 203h3v1h-3zM1260 203h2v1h-2zM613 224h3v1h-3zM604 229h2v1h-2zM1193 158h2v1h-2zM1025 142h2v1h-2zM1216 171h2v1h-2zM1210 168h2v1h-2zM827 301h2v1h-2zM1188 155h2v1h-2zM1243 191h2v1h-2zM1198 161h2v1h-2zM634 217h2v1h-2zM1208 167h2v1h-2zM5 566h2v1h-2zM1246 193h2v1h-2zM960 209h1v1h-1zM169 325h1v2h-1zM196 289h1v2h-1zM1113 131h1v1h-1zM3 568h1v1h-1zM1248 194h1v1h-1zM943 223h1v2h-1zM1117 128h1v1h-1zM990 173h1v1h-1zM42 523h1v1h-1zM1229 180h1v1h-1zM62 500h1v2h-1zM141 366h1v2h-1zM174 314h1v2h-1zM177 310h1v2h-1zM978 188h1v2h-1zM760 232h1v2h-1zM1203 164h1v1h-1zM904 276h1v1h-1zM101 428h1v2h-1zM157 347h1v1h-1zM1263 205h1v1h-1zM160 343h1v1h-1zM57 506h1v2h-1zM764 238h1v1h-1zM793 274h1v1h-1zM105 421h1v2h-1zM138 370h1v2h-1zM794 275h1v1h-1zM73 478h1v3h-1zM888 300h1v1h-1zM18 551h1v2h-1zM185 301h1v1h-1zM121 393h1v1h-1zM97 435h1v2h-1zM164 336h1v2h-1zM967 202h1v2h-1zM113 406h1v2h-1zM86 453h1v2h-1zM89 448h1v2h-1zM800 281h1v1h-1zM779 258h1v2h-1zM77 470h1v2h-1zM950 216h1v1h-1zM919 255h1v2h-1zM801 282h1v1h-1zM149 356h1v1h-1zM997 166h1v1h-1zM49 516h1v1h-1zM907 272h1v1h-1zM931 239h1v1h-1zM753 222h1v2h-1zM117 399h1v2h-1zM1259 202h1v1h-1zM93 442h1v1h-1zM1195 159h1v1h-1zM129 382h1v2h-1zM109 414h1v1h-1zM132 378h1v2h-1zM738 207h1v1h-1zM188 298h1v1h-1zM947 219h1v1h-1zM994 169h1v1h-1zM891 296h1v1h-1zM168 327h1v2h-1zM973 195h1v1h-1zM778 257h1v1h-1zM37 528h1v1h-1zM939 229h1v1h-1zM942 225h1v1h-1zM1017 148h1v1h-1zM81 462h1v2h-1zM1258 201h1v1h-1zM1021 145h1v1h-1zM72 481h1v2h-1zM934 235h1v1h-1zM180 307h1v1h-1zM981 184h1v2h-1zM200 285h1v1h-1zM65 495h1v2h-1zM104 423h1v2h-1zM1008 156h1v1h-1zM163 338h1v2h-1zM763 236h1v2h-1zM120 394h1v2h-1zM1001 162h1v1h-1zM767 242h1v1h-1zM21 547h1v1h-1zM807 287h1v1h-1zM745 214h1v1h-1zM44 521h1v1h-1zM600 232h1v1h-1zM100 430h1v2h-1zM76 472h1v2h-1zM192 294h1v1h-1zM212 272h1v1h-1zM903 277h1v2h-1zM116 401h1v2h-1zM183 303h1v1h-1zM1183 152h1v1h-1zM898 285h1v2h-1zM108 415h1v2h-1zM989 174h1v1h-1zM910 268h1v1h-1zM140 368h1v1h-1zM207 278h1v1h-1zM922 251h1v1h-1zM29 536h1v2h-1zM96 437h1v2h-1zM788 269h1v1h-1zM887 301h1v2h-1zM766 240h1v2h-1zM123 390h1v2h-1zM789 270h1v1h-1zM56 508h1v1h-1zM112 408h1v2h-1zM135 374h1v2h-1zM12 559h1v2h-1zM894 291h1v2h-1zM24 543h1v1h-1zM80 464h1v2h-1zM71 483h1v2h-1zM1005 159h1v1h-1zM148 357h1v2h-1zM151 354h1v1h-1zM795 276h1v1h-1zM1179 149h1v1h-1zM796 277h1v1h-1zM143 364h1v1h-1zM67 491h1v2h-1zM949 217h1v1h-1zM781 261h1v1h-1zM32 533h1v1h-1zM751 220h1v1h-1zM92 443h1v2h-1zM159 344h1v2h-1zM591 240h1v1h-1zM333 241h1v1h-1zM752 221h1v1h-1zM984 180h1v2h-1zM755 225h1v2h-1zM187 299h1v1h-1zM806 286h1v1h-1zM817 295h1v1h-1zM99 432h1v2h-1zM969 200h1v1h-1zM88 450h1v2h-1zM51 514h1v1h-1zM1012 152h1v1h-1zM170 322h1v3h-1zM818 296h1v1h-1zM885 304h1v1h-1zM115 403h1v2h-1zM182 304h1v2h-1zM780 260h1v1h-1zM202 283h1v1h-1zM952 214h1v1h-1zM770 246h1v1h-1zM897 287h1v1h-1zM906 273h1v2h-1zM964 206h1v1h-1zM909 269h1v2h-1zM921 252h1v2h-1zM162 340h1v2h-1zM996 167h1v1h-1zM733 202h1v1h-1zM7 565h1v1h-1zM933 236h1v1h-1zM1200 162h1v1h-1zM39 526h1v1h-1zM146 360h1v1h-1zM977 190h1v1h-1zM980 186h1v1h-1zM901 280h1v2h-1zM131 380h1v1h-1zM111 410h1v2h-1zM0 571h1v1h-1zM20 548h1v2h-1zM167 329h1v2h-1zM23 544h1v2h-1zM70 485h1v2h-1zM82 460h1v2h-1zM606 228h1v1h-1zM59 504h1v1h-1zM972 196h1v2h-1zM975 192h1v2h-1zM194 292h1v1h-1zM740 209h1v1h-1zM126 386h1v2h-1zM1175 146h1v1h-1zM15 555h1v2h-1zM941 226h1v1h-1zM1178 148h1v1h-1zM75 474h1v2h-1zM107 417h1v2h-1zM154 350h1v1h-1zM54 510h1v1h-1zM769 244h1v2h-1zM912 265h1v2h-1zM936 232h1v2h-1zM166 331h1v3h-1zM66 493h1v2h-1zM924 248h1v2h-1zM1245 192h1v1h-1zM983 182h1v1h-1zM783 263h1v2h-1zM103 425h1v1h-1zM26 540h1v2h-1zM813 292h1v1h-1zM784 265h1v1h-1zM95 439h1v1h-1zM754 224h1v1h-1zM134 376h1v1h-1zM757 228h1v2h-1zM197 288h1v1h-1zM119 396h1v1h-1zM739 208h1v1h-1zM11 561h1v1h-1zM758 230h1v1h-1zM1174 145h1v1h-1zM893 293h1v1h-1zM991 172h1v1h-1zM43 522h1v1h-1zM1242 190h1v1h-1zM791 272h1v1h-1zM917 258h1v2h-1zM91 445h1v2h-1zM944 222h1v1h-1zM173 316h1v2h-1zM746 215h1v1h-1zM209 276h1v1h-1zM1010 154h1v1h-1zM900 282h1v1h-1zM189 297h1v1h-1zM809 289h1v1h-1zM747 216h1v1h-1zM1170 142h1v1h-1zM31 534h1v1h-1zM137 372h1v1h-1zM971 198h1v1h-1zM122 392h1v1h-1zM1171 143h1v1h-1zM1226 177h1v1h-1zM46 519h1v1h-1zM1007 157h1v1h-1zM14 557h1v1h-1zM790 271h1v1h-1zM896 288h1v2h-1zM106 419h1v2h-1zM153 351h1v2h-1zM966 204h1v1h-1zM85 455h1v1h-1zM165 334h1v2h-1zM932 237h1v2h-1zM768 243h1v1h-1zM808 288h1v1h-1zM145 361h1v2h-1zM10 562h1v1h-1zM110 412h1v2h-1zM34 531h1v1h-1zM1255 199h1v1h-1zM593 238h1v1h-1zM2 569h1v1h-1zM102 426h1v2h-1zM772 248h1v2h-1zM69 487h1v2h-1zM986 178h1v1h-1zM161 342h1v1h-1zM782 262h1v1h-1zM597 235h1v1h-1zM61 502h1v1h-1zM974 194h1v1h-1zM1237 186h1v1h-1zM74 476h1v2h-1zM156 348h1v1h-1zM53 511h1v2h-1zM125 388h1v1h-1zM98 434h1v1h-1zM880 308h1v1h-1zM831 303h1v1h-1zM204 281h1v1h-1zM172 318h1v2h-1zM884 305h1v1h-1zM181 306h1v1h-1zM951 215h1v1h-1zM761 234h1v1h-1zM899 283h1v2h-1zM998 165h1v1h-1zM9 563h1v1h-1zM908 271h1v1h-1zM935 234h1v1h-1zM1166 139h1v1h-1zM1116 129h1v1h-1zM920 254h1v1h-1zM41 524h1v1h-1zM64 497h1v2h-1zM797 278h1v1h-1zM1222 174h1v1h-1zM915 261h1v1h-1zM918 257h1v1h-1zM927 244h1v1h-1zM930 240h1v1h-1zM22 546h1v1h-1zM128 384h1v1h-1zM734 203h1v1h-1zM17 553h1v1h-1zM756 227h1v1h-1zM735 204h1v1h-1zM211 273h1v2h-1zM1251 196h1v1h-1zM938 230h1v1h-1zM68 489h1v2h-1zM741 210h1v1h-1zM184 302h1v1h-1zM1016 149h1v1h-1zM771 247h1v1h-1zM742 211h1v1h-1zM911 267h1v1h-1zM48 517h1v1h-1zM1020 146h1v1h-1zM774 251h1v2h-1zM1009 155h1v1h-1zM923 250h1v1h-1zM1266 207h1v1h-1zM176 312h1v1h-1zM179 308h1v1h-1zM199 286h1v1h-1zM957 211h1v1h-1zM133 377h1v1h-1zM946 220h1v1h-1zM25 542h1v1h-1zM993 170h1v1h-1zM45 520h1v1h-1zM749 218h1v1h-1zM814 293h1v1h-1zM36 529h1v1h-1zM895 290h1v1h-1zM890 297h1v1h-1zM599 233h1v1h-1zM804 284h1v1h-1zM329 238h1v1h-1zM914 262h1v2h-1zM191 295h1v1h-1zM144 363h1v1h-1zM1232 182h1v1h-1zM926 245h1v2h-1zM33 532h1v1h-1zM1262 204h1v1h-1zM592 239h1v1h-1zM330 239h1v1h-1zM730 200h1v1h-1zM1024 143h1v1h-1zM985 179h1v1h-1zM136 373h1v1h-1zM970 199h1v1h-1zM139 369h1v1h-1zM206 279h1v1h-1zM28 538h1v1h-1zM886 303h1v1h-1zM84 456h1v2h-1zM748 217h1v1h-1zM785 266h1v1h-1zM152 353h1v1h-1zM1000 163h1v1h-1zM52 513h1v1h-1zM961 208h1v1h-1zM203 282h1v1h-1zM759 231h1v1h-1zM4 567h1v1h-1zM147 359h1v1h-1zM929 241h1v2h-1zM1 570h1v1h-1zM792 273h1v1h-1zM988 175h1v1h-1zM40 525h1v1h-1zM60 503h1v1h-1zM902 279h1v1h-1zM158 346h1v1h-1zM810 290h1v1h-1zM79 466h1v2h-1zM55 509h1v1h-1zM124 389h1v1h-1zM799 280h1v1h-1zM171 320h1v2h-1zM127 385h1v1h-1zM13 558h1v1h-1zM16 554h1v1h-1zM1227 178h1v1h-1zM1238 187h1v1h-1zM965 205h1v1h-1zM1228 179h1v1h-1zM968 201h1v1h-1zM736 205h1v1h-1zM87 452h1v1h-1zM1239 188h1v1h-1zM210 275h1v1h-1zM8 564h1v1h-1zM737 206h1v1h-1zM937 231h1v1h-1zM905 275h1v1h-1zM762 235h1v1h-1zM94 440h1v2h-1zM995 168h1v1h-1zM47 518h1v1h-1zM773 250h1v1h-1zM83 458h1v2h-1zM1167 140h1v1h-1zM63 499h1v1h-1zM776 254h1v2h-1zM142 365h1v1h-1zM175 313h1v1h-1zM195 291h1v1h-1zM976 191h1v1h-1zM118 397h1v2h-1zM198 287h1v1h-1zM744 213h1v1h-1zM798 279h1v1h-1zM889 298h1v2h-1zM186 300h1v1h-1zM777 256h1v1h-1zM892 294h1v2h-1zM19 550h1v1h-1zM945 221h1v1h-1zM1190 156h1v1h-1zM155 349h1v1h-1zM992 171h1v1h-1zM940 227h1v2h-1zM821 298h1v1h-1zM35 530h1v1h-1zM594 237h1v1h-1zM114 405h1v1h-1zM150 355h1v1h-1zM987 176h1v2h-1zM50 515h1v1h-1zM1011 153h1v1h-1zM1252 197h1v1h-1zM201 284h1v1h-1zM178 309h1v1h-1zM1233 183h1v1h-1zM979 187h1v1h-1zM948 218h1v1h-1zM78 468h1v2h-1zM1223 175h1v1h-1zM1234 184h1v1h-1zM743 212h1v1h-1zM38 527h1v1h-1zM58 505h1v1h-1zM1267 208h1v1h-1zM130 381h1v1h-1zM193 293h1v1h-1zM999 164h1v1h-1zM601 231h1v1h-1zM786 267h1v1h-1zM598 234h1v1h-1zM213 271h1v1h-1zM750 219h1v1h-1zM1182 151h1v1h-1zM787 268h1v1h-1zM913 264h1v1h-1zM916 260h1v1h-1zM190 296h1v1h-1zM90 447h1v1h-1zM925 247h1v1h-1zM1015 150h1v1h-1zM928 243h1v1h-1zM540 256h1v1h-1zM208 277h1v1h-1zM805 285h1v1h-1zM775 253h1v1h-1zM27 539h1v1h-1zM30 535h1v1h-1zM765 239h1v1h-1zM982 183h1v1h-1zM1002 161h1v1h-1zM881 307h1v1h-1zM205 280h1v1h-1zM1006 158h1v1h-1z" fill="#2fa868"/>
<path d="M676 258h2v1h-2zM813 451h13v1h-13zM303 299h2v1h-2zM350 299h6v1h-6zM365 299h13v1h-13zM387 299h6v1h-6zM573 299h3v1h-3zM341 298h9v1h-9zM378 298h9v1h-9zM393 298h4v1h-4zM576 298h2v1h-2zM431 301h2v1h-2zM493 301h4v1h-4zM548 301h22v1h-22zM356 300h9v1h-9zM497 300h51v1h-51zM570 300h3v1h-3zM1069 219h3v1h-3zM451 308h6v1h-6zM467 308h4v1h-4zM1254 308h2v1h-2zM1268 308h2v1h-2zM1157 188h3v1h-3zM604 276h2v1h-2zM608 276h3v1h-3zM635 276h4v1h-4zM1037 214h2v1h-2zM1055 214h3v1h-3zM1091 214h5v1h-5zM1183 214h2v1h-2zM850 439h2v1h-2zM1130 180h2v1h-2zM293 311h2v1h-2zM1261 311h3v1h-3zM457 309h4v1h-4zM464 309h3v1h-3zM1256 309h3v1h-3zM1266 309h2v1h-2zM597 279h3v1h-3zM620 279h7v1h-7zM406 292h3v1h-3zM421 292h2v1h-2zM663 266h2v1h-2zM652 271h2v1h-2zM1146 186h7v1h-7zM795 443h2v1h-2zM841 443h3v1h-3zM897 461h3v1h-3zM667 264h2v1h-2zM1124 179h2v1h-2zM1128 179h2v1h-2zM686 253h2v1h-2zM1033 217h2v1h-2zM1064 217h2v1h-2zM1075 217h2v1h-2zM484 303h4v1h-4zM1276 303h2v1h-2zM445 307h6v1h-6zM471 307h3v1h-3zM1016 233h2v1h-2zM325 294h2v1h-2zM892 460h2v1h-2zM900 460h3v1h-3zM309 295h2v1h-2zM401 295h2v1h-2zM669 263h2v1h-2zM214 358h7v1h-7zM803 447h2v1h-2zM832 447h2v1h-2zM705 234h7v1h-7zM1014 234h2v1h-2zM1204 234h2v1h-2zM306 297h2v1h-2zM332 297h9v1h-9zM397 297h2v1h-2zM578 297h3v1h-3zM1104 209h2v1h-2zM1010 237h2v1h-2zM280 320h2v1h-2zM276 322h2v1h-2zM1045 211h5v1h-5zM1100 211h2v1h-2zM1179 211h2v1h-2zM1066 218h3v1h-3zM1072 218h3v1h-3zM461 310h3v1h-3zM1259 310h2v1h-2zM1264 310h2v1h-2zM1140 185h6v1h-6zM1053 213h2v1h-2zM1096 213h2v1h-2zM404 293h2v1h-2zM600 278h2v1h-2zM613 278h7v1h-7zM627 278h4v1h-4zM661 267h2v1h-2zM715 236h2v1h-2zM221 357h26v1h-26zM811 450h2v1h-2zM826 450h2v1h-2zM679 256h2v1h-2zM314 291h2v1h-2zM409 291h5v1h-5zM418 291h3v1h-3zM672 261h2v1h-2zM606 275h2v1h-2zM639 275h4v1h-4zM602 277h2v1h-2zM611 277h2v1h-2zM631 277h4v1h-4zM1018 232h2v1h-2zM488 302h5v1h-5zM791 441h2v1h-2zM847 441h2v1h-2zM590 281h3v1h-3zM1121 181h2v1h-2zM1132 181h2v1h-2zM437 305h4v1h-4zM477 305h4v1h-4zM1273 305h2v1h-2zM658 268h3v1h-3zM647 273h3v1h-3zM801 446h2v1h-2zM834 446h2v1h-2zM858 435h16v1h-16zM593 280h4v1h-4zM656 269h2v1h-2zM654 270h2v1h-2zM328 296h4v1h-4zM399 296h2v1h-2zM581 296h2v1h-2zM808 449h3v1h-3zM828 449h2v1h-2zM1058 215h3v1h-3zM1083 215h8v1h-8zM1040 212h5v1h-5zM1050 212h3v1h-3zM1098 212h2v1h-2zM703 235h2v1h-2zM712 235h3v1h-3zM284 318h2v1h-2zM650 272h2v1h-2zM1061 216h3v1h-3zM1077 216h6v1h-6zM643 274h4v1h-4zM797 444h2v1h-2zM838 444h3v1h-3zM1138 184h2v1h-2zM435 304h2v1h-2zM481 304h3v1h-3zM249 354h2v1h-2zM1164 191h2v1h-2zM793 442h2v1h-2zM844 442h3v1h-3zM805 448h3v1h-3zM830 448h2v1h-2zM441 306h4v1h-4zM474 306h3v1h-3zM1251 306h2v1h-2zM1271 306h2v1h-2zM278 321h2v1h-2zM1102 210h2v1h-2zM288 315h2v1h-2zM272 325h2v1h-2zM1136 183h2v1h-2zM684 254h2v1h-2zM719 239h2v1h-2zM785 436h2v1h-2zM854 436h4v1h-4zM874 436h2v1h-2zM1119 182h2v1h-2zM1134 182h2v1h-2zM876 437h2v1h-2zM1160 189h2v1h-2zM895 462h2v1h-2zM320 290h2v1h-2zM414 290h4v1h-4zM799 445h2v1h-2zM836 445h2v1h-2zM282 319h2v1h-2zM1106 208h2v1h-2zM903 459h2v1h-2zM681 255h3v1h-3zM1108 207h2v1h-2zM665 265h2v1h-2zM1198 229h2v1h-2zM1126 178h2v1h-2zM1162 190h2v1h-2zM1153 187h4v1h-4zM1021 230h2v1h-2zM746 329h1v3h-1zM729 255h1v6h-1zM136 557h1v2h-1zM148 520h1v5h-1zM1209 238h1v2h-1zM943 374h1v3h-1zM128 571h1v2h-1zM955 350h1v1h-1zM757 365h1v4h-1zM935 398h1v3h-1zM947 364h1v2h-1zM691 249h1v1h-1zM922 429h1v2h-1zM205 383h1v2h-1zM788 438h1v1h-1zM750 343h1v3h-1zM1003 246h1v1h-1zM971 311h1v2h-1zM1234 285h1v2h-1zM268 330h1v2h-1zM789 439h1v1h-1zM891 459h1v1h-1zM938 389h1v3h-1zM740 307h1v4h-1zM975 300h1v3h-1zM987 273h1v2h-1zM1031 219h1v1h-1zM263 338h1v1h-1zM753 352h1v4h-1zM942 377h1v3h-1zM726 247h1v2h-1zM193 412h1v2h-1zM951 356h1v2h-1zM771 407h1v3h-1zM174 436h1v2h-1zM1035 216h1v1h-1zM1172 203h1v1h-1zM921 431h1v2h-1zM739 303h1v4h-1zM197 401h1v3h-1zM165 466h1v4h-1zM722 241h1v1h-1zM152 506h1v3h-1zM164 470h1v4h-1zM910 450h1v1h-1zM140 550h1v2h-1zM1111 202h1v3h-1zM747 332h1v4h-1zM1245 300h1v1h-1zM299 304h1v2h-1zM937 392h1v3h-1zM1226 268h1v2h-1zM959 341h1v3h-1zM723 242h1v1h-1zM732 270h1v4h-1zM983 281h1v2h-1zM743 318h1v3h-1zM926 421h1v2h-1zM196 404h1v2h-1zM781 430h1v2h-1zM1197 228h1v1h-1zM962 334h1v2h-1zM778 423h1v3h-1zM1208 237h1v1h-1zM996 256h1v2h-1zM173 438h1v4h-1zM939 386h1v3h-1zM999 252h1v1h-1zM1237 291h1v1h-1zM906 456h1v2h-1zM1110 205h1v2h-1zM982 283h1v3h-1zM139 552h1v2h-1zM151 509h1v3h-1zM890 458h1v1h-1zM1212 242h1v2h-1zM1171 201h1v2h-1zM967 321h1v3h-1zM1233 283h1v2h-1zM1006 241h1v2h-1zM189 419h1v1h-1zM688 252h1v1h-1zM1123 180h1v1h-1zM1244 299h1v1h-1zM934 401h1v2h-1zM946 366h1v3h-1zM184 426h1v1h-1zM995 258h1v2h-1zM1275 304h1v1h-1zM725 245h1v2h-1zM172 442h1v3h-1zM742 315h1v3h-1zM160 484h1v3h-1zM770 405h1v2h-1zM181 429h1v1h-1zM1168 195h1v2h-1zM733 274h1v4h-1zM974 303h1v2h-1zM135 559h1v2h-1zM147 525h1v4h-1zM738 298h1v5h-1zM209 373h1v3h-1zM127 573h1v2h-1zM1190 220h1v1h-1zM784 435h1v1h-1zM756 362h1v3h-1zM213 360h1v4h-1zM933 403h1v3h-1zM979 291h1v2h-1zM1223 261h1v2h-1zM991 266h1v1h-1zM766 395h1v3h-1zM168 455h1v4h-1zM749 340h1v3h-1zM131 566h1v2h-1zM958 344h1v2h-1zM1030 220h1v2h-1zM883 448h1v2h-1zM717 237h1v1h-1zM950 358h1v2h-1zM208 376h1v3h-1zM925 423h1v2h-1zM163 474h1v4h-1zM917 438h1v2h-1zM423 293h1v1h-1zM718 238h1v1h-1zM695 245h1v1h-1zM909 451h1v2h-1zM1025 227h1v1h-1zM424 294h1v1h-1zM1230 277h1v2h-1zM266 333h1v2h-1zM961 336h1v3h-1zM146 529h1v5h-1zM724 243h1v2h-1zM313 292h1v1h-1zM247 356h1v1h-1zM204 385h1v2h-1zM1167 193h1v2h-1zM970 313h1v3h-1zM916 440h1v2h-1zM762 383h1v3h-1zM143 543h1v3h-1zM317 289h1v1h-1zM251 353h1v1h-1zM302 300h1v1h-1zM735 283h1v5h-1zM780 428h1v2h-1zM929 414h1v3h-1zM941 380h1v3h-1zM1002 247h1v2h-1zM179 431h1v1h-1zM434 303h1v1h-1zM966 324h1v2h-1zM745 325h1v4h-1zM1222 259h1v2h-1zM1193 224h1v1h-1zM945 369h1v3h-1zM203 387h1v2h-1zM212 364h1v4h-1zM777 421h1v2h-1zM973 305h1v3h-1zM912 447h1v2h-1zM192 414h1v2h-1zM1236 289h1v2h-1zM759 373h1v4h-1zM259 343h1v1h-1zM262 339h1v1h-1zM271 326h1v1h-1zM195 406h1v3h-1zM698 241h1v1h-1zM944 372h1v2h-1zM1229 275h1v2h-1zM1170 199h1v2h-1zM748 336h1v4h-1zM1203 233h1v1h-1zM211 368h1v3h-1zM978 293h1v2h-1zM981 286h1v2h-1zM1192 222h1v2h-1zM693 247h1v1h-1zM769 402h1v3h-1zM957 346h1v2h-1zM583 294h1v2h-1zM741 311h1v4h-1zM430 300h1v1h-1zM852 438h1v1h-1zM690 250h1v1h-1zM779 426h1v2h-1zM949 360h1v2h-1zM924 425h1v2h-1zM171 445h1v3h-1zM1114 194h1v3h-1zM986 275h1v2h-1zM674 260h1v1h-1zM882 446h1v2h-1zM1210 240h1v1h-1zM755 359h1v3h-1zM744 321h1v4h-1zM1239 293h1v2h-1zM1211 241h1v1h-1zM265 335h1v1h-1zM731 266h1v4h-1zM176 434h1v1h-1zM126 575h1v2h-1zM776 419h1v2h-1zM1232 281h1v2h-1zM1240 295h1v1h-1zM765 392h1v3h-1zM701 237h1v1h-1zM728 251h1v4h-1zM969 316h1v2h-1zM920 433h1v2h-1zM758 369h1v4h-1zM936 395h1v3h-1zM932 406h1v3h-1zM167 459h1v3h-1zM1113 197h1v3h-1zM1185 215h1v1h-1zM1169 197h1v2h-1zM734 278h1v5h-1zM940 383h1v3h-1zM727 249h1v2h-1zM1246 301h1v1h-1zM1166 192h1v1h-1zM1117 185h1v3h-1zM752 349h1v3h-1zM998 253h1v2h-1zM296 309h1v1h-1zM928 417h1v2h-1zM207 379h1v2h-1zM1247 302h1v1h-1zM968 318h1v3h-1zM1191 221h1v1h-1zM1224 263h1v3h-1zM166 462h1v4h-1zM1221 257h1v2h-1zM191 416h1v2h-1zM678 257h1v1h-1zM155 498h1v3h-1zM1005 243h1v1h-1zM1008 239h1v1h-1zM960 339h1v2h-1zM589 282h1v2h-1zM145 534h1v5h-1zM1235 287h1v2h-1zM194 409h1v3h-1zM885 452h1v1h-1zM1020 231h1v1h-1zM1238 292h1v1h-1zM764 389h1v3h-1zM183 427h1v1h-1zM1218 251h1v2h-1zM1231 279h1v2h-1zM253 351h1v1h-1zM210 371h1v2h-1zM965 326h1v3h-1zM150 512h1v4h-1zM308 296h1v1h-1zM162 478h1v3h-1zM980 288h1v3h-1zM737 292h1v6h-1zM730 261h1v5h-1zM1173 204h1v1h-1zM154 501h1v3h-1zM1039 213h1v1h-1zM132 564h1v2h-1zM312 293h1v1h-1zM585 290h1v2h-1zM202 389h1v2h-1zM158 489h1v3h-1zM985 277h1v2h-1zM972 308h1v3h-1zM884 450h1v2h-1zM964 329h1v3h-1zM149 516h1v4h-1zM161 481h1v3h-1zM261 340h1v2h-1zM761 380h1v3h-1zM1116 188h1v3h-1zM919 435h1v2h-1zM327 295h1v1h-1zM931 409h1v2h-1zM977 295h1v3h-1zM584 292h1v2h-1zM186 423h1v1h-1zM1012 236h1v1h-1zM775 417h1v2h-1zM1213 244h1v1h-1zM1024 228h1v1h-1zM881 444h1v2h-1zM256 347h1v1h-1zM144 539h1v4h-1zM170 448h1v4h-1zM214 359h1v1h-1zM1217 250h1v1h-1zM915 442h1v2h-1zM206 381h1v2h-1zM930 411h1v3h-1zM736 288h1v4h-1zM1228 272h1v3h-1zM316 290h1v1h-1zM923 427h1v2h-1zM403 294h1v1h-1zM264 336h1v2h-1zM1004 244h1v2h-1zM178 432h1v1h-1zM700 238h1v2h-1zM760 377h1v3h-1zM768 400h1v2h-1zM157 492h1v3h-1zM1112 200h1v2h-1zM1216 248h1v2h-1zM1195 226h1v1h-1zM1220 255h1v2h-1zM774 414h1v3h-1zM697 242h1v1h-1zM153 504h1v2h-1zM754 356h1v3h-1zM287 316h1v1h-1zM888 456h1v1h-1zM1241 296h1v1h-1zM1027 224h1v1h-1zM1253 307h1v1h-1zM425 295h1v1h-1zM156 495h1v3h-1zM291 313h1v1h-1zM1115 191h1v3h-1zM1242 297h1v1h-1zM1175 206h1v2h-1zM692 248h1v1h-1zM169 452h1v3h-1zM963 332h1v2h-1zM295 310h1v1h-1zM588 284h1v2h-1zM1176 208h1v1h-1zM1187 217h1v1h-1zM976 298h1v2h-1zM954 351h1v1h-1zM185 424h1v2h-1zM782 432h1v2h-1zM767 398h1v2h-1zM887 454h1v2h-1zM1194 225h1v1h-1zM880 442h1v2h-1zM914 444h1v2h-1zM248 355h1v1h-1zM1219 253h1v2h-1zM984 279h1v2h-1zM763 386h1v3h-1zM275 323h1v1h-1zM201 391h1v2h-1zM298 306h1v1h-1zM322 291h1v1h-1zM1186 216h1v1h-1zM1227 270h1v2h-1zM1248 303h1v1h-1zM905 458h1v1h-1zM1118 183h1v2h-1zM255 348h1v2h-1zM1249 304h1v1h-1zM886 453h1v1h-1zM267 332h1v1h-1zM994 260h1v2h-1zM252 352h1v1h-1zM879 440h1v2h-1zM1215 246h1v2h-1zM587 286h1v2h-1zM1200 230h1v1h-1zM990 267h1v2h-1zM1174 205h1v1h-1zM130 568h1v2h-1zM1201 231h1v1h-1zM188 420h1v2h-1zM200 393h1v3h-1zM699 240h1v1h-1zM1026 225h1v2h-1zM258 344h1v2h-1zM270 327h1v2h-1zM1007 240h1v1h-1zM159 487h1v2h-1zM849 440h1v1h-1zM694 246h1v1h-1zM1181 212h1v1h-1zM853 437h1v1h-1zM318 288h1v1h-1zM878 438h1v2h-1zM953 352h1v2h-1zM1214 245h1v1h-1zM1182 213h1v1h-1zM142 546h1v2h-1zM301 301h1v2h-1zM180 430h1v1h-1zM134 561h1v1h-1zM1278 302h1v1h-1zM427 297h1v1h-1zM1029 222h1v1h-1zM1001 249h1v1h-1zM894 461h1v1h-1zM138 554h1v1h-1zM908 453h1v1h-1zM787 437h1v1h-1zM1196 227h1v1h-1zM290 314h1v1h-1zM671 262h1v1h-1zM989 269h1v2h-1zM274 324h1v1h-1zM956 348h1v2h-1zM1270 307h1v1h-1zM675 259h1v1h-1zM773 412h1v2h-1zM199 396h1v2h-1zM426 296h1v1h-1zM1243 298h1v1h-1zM993 262h1v2h-1zM721 240h1v1h-1zM702 236h1v1h-1zM324 293h1v1h-1zM751 346h1v3h-1zM1177 209h1v1h-1zM1032 218h1v1h-1zM1188 218h1v1h-1zM305 298h1v1h-1zM1225 266h1v2h-1zM125 577h1v2h-1zM913 446h1v1h-1zM586 288h1v2h-1zM1178 210h1v1h-1zM1189 219h1v1h-1zM175 435h1v1h-1zM198 398h1v3h-1zM783 434h1v1h-1zM1250 305h1v1h-1zM911 449h1v1h-1zM297 307h1v2h-1zM889 457h1v1h-1zM1207 236h1v1h-1zM948 362h1v2h-1zM997 255h1v1h-1zM323 292h1v1h-1zM1009 238h1v1h-1zM137 555h1v2h-1zM772 410h1v2h-1zM907 454h1v2h-1zM1013 235h1v1h-1zM187 422h1v1h-1zM689 251h1v1h-1zM254 350h1v1h-1zM1036 215h1v1h-1zM141 548h1v2h-1zM269 329h1v1h-1zM1206 235h1v1h-1zM182 428h1v1h-1zM133 562h1v2h-1zM952 354h1v2h-1zM927 419h1v2h-1zM433 302h1v1h-1zM319 289h1v1h-1zM1000 250h1v2h-1zM300 303h1v1h-1zM992 264h1v2h-1zM129 570h1v1h-1zM190 418h1v1h-1zM286 317h1v1h-1zM1028 223h1v1h-1zM257 346h1v1h-1zM260 342h1v1h-1zM918 437h1v1h-1zM696 243h1v2h-1zM988 271h1v2h-1zM311 294h1v1h-1zM790 440h1v1h-1zM177 433h1v1h-1zM1202 232h1v1h-1zM428 298h1v1h-1zM292 312h1v1h-1zM429 299h1v1h-1zM1023 229h1v1h-1z" fill="#2fa868"/>
<rect x="0" y="199" width="1617" height="1" fill="#c0c0c0"/>
<rect x="222" y="105" width="1396" height="2" fill="#ff0000"/>
<rect x="0" y="153" width="1618" height="2" fill="#ff0000"/>
<rect x="0" y="229" width="1618" height="2" fill="#22c322"/>
<rect x="0" y="268" width="1618" height="2" fill="#0000ff"/>
<rect x="0" y="304" width="1618" height="2" fill="#0000ff"/>
<rect x="1611" y="103" width="6" height="6" fill="#ff0000"/><rect x="1613" y="105" width="2" height="2" fill="#fff"/>
<rect x="1611" y="151" width="6" height="6" fill="#ff0000"/><rect x="1613" y="153" width="2" height="2" fill="#fff"/>
<rect x="-3" y="151" width="6" height="6" fill="#ff0000"/><rect x="-1" y="153" width="2" height="2" fill="#fff"/>
<rect x="1611" y="227" width="6" height="6" fill="#22c322"/><rect x="1613" y="229" width="2" height="2" fill="#fff"/>
<rect x="-3" y="227" width="6" height="6" fill="#22c322"/><rect x="-1" y="229" width="2" height="2" fill="#fff"/>
<rect x="1611" y="266" width="6" height="6" fill="#0000ff"/><rect x="1613" y="268" width="2" height="2" fill="#fff"/>
<rect x="-3" y="266" width="6" height="6" fill="#0000ff"/><rect x="-1" y="268" width="2" height="2" fill="#fff"/>
<rect x="1611" y="302" width="6" height="6" fill="#0000ff"/><rect x="1613" y="304" width="2" height="2" fill="#fff"/>
<rect x="-3" y="302" width="6" height="6" fill="#0000ff"/><rect x="-1" y="304" width="2" height="2" fill="#fff"/>
<rect x="-2" y="499" width="1" height="49" fill="#000"/><rect x="-4" y="499" width="5" height="49" fill="#000"/>
<rect x="6" y="481" width="1" height="44" fill="#000"/><rect x="4" y="498" width="5" height="16" fill="#000"/>
<rect x="14" y="498" width="1" height="27" fill="#000"/><rect x="12" y="503" width="5" height="11" fill="#000"/><rect x="13" y="504" width="3" height="9" fill="#fff"/>
<rect x="22" y="388" width="1" height="132" fill="#000"/><rect x="20" y="400" width="5" height="103" fill="#000"/><rect x="21" y="401" width="3" height="101" fill="#fff"/>
<rect x="30" y="388" width="1" height="50" fill="#000"/><rect x="28" y="398" width="5" height="3" fill="#000"/><rect x="29" y="399" width="3" height="1" fill="#fff"/>
<rect x="38" y="379" width="1" height="38" fill="#000"/><rect x="36" y="399" width="5" height="13" fill="#000"/>
<rect x="46" y="354" width="1" height="62" fill="#000"/><rect x="44" y="387" width="5" height="24" fill="#000"/><rect x="45" y="388" width="3" height="22" fill="#fff"/>
<rect x="54" y="376" width="1" height="28" fill="#000"/><rect x="52" y="389" width="5" height="13" fill="#000"/>
<rect x="62" y="275" width="1" height="135" fill="#000"/><rect x="60" y="282" width="5" height="120" fill="#000"/><rect x="61" y="283" width="3" height="118" fill="#fff"/>
<rect x="70" y="244" width="1" height="64" fill="#000"/><rect x="68" y="267" width="5" height="15" fill="#000"/><rect x="69" y="268" width="3" height="13" fill="#fff"/>
<rect x="78" y="251" width="1" height="70" fill="#000"/><rect x="76" y="268" width="5" height="3" fill="#000"/>
<rect x="86" y="267" width="1" height="17" fill="#000"/><rect x="84" y="269" width="5" height="9" fill="#000"/>
<rect x="94" y="277" width="1" height="61" fill="#000"/><rect x="92" y="277" width="5" height="38" fill="#000"/>
<rect x="102" y="302" width="1" height="41" fill="#000"/><rect x="100" y="314" width="5" height="24" fill="#000"/>
<rect x="110" y="318" width="1" height="58" fill="#000"/><rect x="108" y="330" width="5" height="8" fill="#000"/><rect x="109" y="331" width="3" height="6" fill="#fff"/>
<rect x="118" y="282" width="1" height="54" fill="#000"/><rect x="116" y="293" width="5" height="38" fill="#000"/><rect x="117" y="294" width="3" height="36" fill="#fff"/>
<rect x="126" y="284" width="1" height="25" fill="#000"/><rect x="124" y="293" width="5" height="2" fill="#000"/>
<rect x="134" y="284" width="1" height="23" fill="#000"/><rect x="132" y="293" width="5" height="2" fill="#000"/>
<rect x="142" y="282" width="1" height="39" fill="#000"/><rect x="140" y="298" width="5" height="15" fill="#000"/>
<rect x="150" y="292" width="1" height="29" fill="#000"/><rect x="148" y="304" width="5" height="10" fill="#000"/><rect x="149" y="305" width="3" height="8" fill="#fff"/>
<rect x="158" y="292" width="1" height="57" fill="#000"/><rect x="156" y="305" width="5" height="6" fill="#000"/>
<rect x="166" y="187" width="1" height="130" fill="#000"/><rect x="164" y="197" width="5" height="114" fill="#000"/><rect x="165" y="198" width="3" height="112" fill="#fff"/>
<rect x="174" y="184" width="1" height="24" fill="#000"/><rect x="172" y="189" width="5" height="10" fill="#000"/><rect x="173" y="190" width="3" height="8" fill="#fff"/>
<rect x="182" y="188" width="1" height="19" fill="#000"/><rect x="180" y="190" width="5" height="17" fill="#000"/>
<rect x="190" y="194" width="1" height="56" fill="#000"/><rect x="188" y="203" width="5" height="29" fill="#000"/>
<rect x="198" y="212" width="1" height="40" fill="#000"/><rect x="196" y="231" width="5" height="9" fill="#000"/>
<rect x="206" y="206" width="1" height="42" fill="#000"/><rect x="204" y="218" width="5" height="22" fill="#000"/><rect x="205" y="219" width="3" height="20" fill="#fff"/>
<rect x="214" y="196" width="1" height="63" fill="#000"/><rect x="212" y="219" width="5" height="7" fill="#000"/>
<rect x="222" y="210" width="1" height="27" fill="#000"/><rect x="220" y="213" width="5" height="13" fill="#000"/><rect x="221" y="214" width="3" height="11" fill="#fff"/>
<rect x="230" y="210" width="1" height="25" fill="#000"/><rect x="228" y="210" width="5" height="22" fill="#000"/>
<rect x="238" y="199" width="1" height="42" fill="#000"/><rect x="236" y="211" width="5" height="24" fill="#000"/><rect x="237" y="212" width="3" height="22" fill="#fff"/>
<rect x="246" y="194" width="1" height="34" fill="#000"/><rect x="244" y="197" width="5" height="15" fill="#000"/><rect x="245" y="198" width="3" height="13" fill="#fff"/>
<rect x="254" y="175" width="1" height="59" fill="#000"/><rect x="252" y="197" width="5" height="22" fill="#000"/>
<rect x="262" y="211" width="1" height="59" fill="#000"/><rect x="260" y="216" width="5" height="54" fill="#000"/>
<rect x="270" y="231" width="1" height="47" fill="#000"/><rect x="268" y="243" width="5" height="26" fill="#000"/><rect x="269" y="244" width="3" height="24" fill="#fff"/>
<rect x="278" y="236" width="1" height="25" fill="#000"/><rect x="276" y="242" width="5" height="10" fill="#000"/>
<rect x="286" y="231" width="1" height="37" fill="#000"/><rect x="284" y="251" width="5" height="8" fill="#000"/>
<rect x="294" y="236" width="1" height="32" fill="#000"/><rect x="292" y="240" width="5" height="19" fill="#000"/><rect x="293" y="241" width="3" height="17" fill="#fff"/>
<rect x="302" y="223" width="1" height="35" fill="#000"/><rect x="300" y="240" width="5" height="15" fill="#000"/>
<rect x="310" y="253" width="1" height="38" fill="#000"/><rect x="308" y="253" width="5" height="31" fill="#000"/>
<rect x="318" y="271" width="1" height="26" fill="#000"/><rect x="316" y="283" width="5" height="2" fill="#000"/>
<rect x="326" y="290" width="1" height="22" fill="#000"/><rect x="324" y="292" width="5" height="13" fill="#000"/><rect x="325" y="293" width="3" height="11" fill="#fff"/>
<rect x="334" y="268" width="1" height="33" fill="#000"/><rect x="332" y="276" width="5" height="17" fill="#000"/><rect x="333" y="277" width="3" height="15" fill="#fff"/>
<rect x="342" y="254" width="1" height="28" fill="#000"/><rect x="340" y="258" width="5" height="18" fill="#000"/><rect x="341" y="259" width="3" height="16" fill="#fff"/>
<rect x="350" y="236" width="1" height="29" fill="#000"/><rect x="348" y="258" width="5" height="2" fill="#000"/>
<rect x="358" y="249" width="1" height="34" fill="#000"/><rect x="356" y="256" width="5" height="4" fill="#000"/><rect x="357" y="257" width="3" height="2" fill="#fff"/>
<rect x="366" y="241" width="1" height="29" fill="#000"/><rect x="364" y="245" width="5" height="12" fill="#000"/><rect x="365" y="246" width="3" height="10" fill="#fff"/>
<rect x="374" y="243" width="1" height="14" fill="#000"/><rect x="372" y="245" width="5" height="5" fill="#000"/>
<rect x="382" y="222" width="1" height="32" fill="#000"/><rect x="380" y="239" width="5" height="11" fill="#000"/><rect x="381" y="240" width="3" height="9" fill="#fff"/>
<rect x="390" y="237" width="1" height="37" fill="#000"/><rect x="388" y="239" width="5" height="24" fill="#000"/>
<rect x="398" y="245" width="1" height="29" fill="#000"/><rect x="396" y="250" width="5" height="13" fill="#000"/><rect x="397" y="251" width="3" height="11" fill="#fff"/>
<rect x="406" y="243" width="1" height="40" fill="#000"/><rect x="404" y="251" width="5" height="10" fill="#000"/>
<rect x="414" y="249" width="1" height="37" fill="#000"/><rect x="412" y="259" width="5" height="19" fill="#000"/>
<rect x="422" y="269" width="1" height="17" fill="#000"/><rect x="420" y="274" width="5" height="5" fill="#000"/><rect x="421" y="275" width="3" height="3" fill="#fff"/>
<rect x="430" y="275" width="1" height="53" fill="#000"/><rect x="428" y="275" width="5" height="39" fill="#000"/>
<rect x="438" y="288" width="1" height="34" fill="#000"/><rect x="436" y="300" width="5" height="14" fill="#000"/><rect x="437" y="301" width="3" height="12" fill="#fff"/>
<rect x="446" y="275" width="1" height="35" fill="#000"/><rect x="444" y="281" width="5" height="19" fill="#000"/><rect x="445" y="282" width="3" height="17" fill="#fff"/>
<rect x="454" y="235" width="1" height="50" fill="#000"/><rect x="452" y="240" width="5" height="42" fill="#000"/><rect x="453" y="241" width="3" height="40" fill="#fff"/>
<rect x="462" y="227" width="1" height="19" fill="#000"/><rect x="460" y="232" width="5" height="11" fill="#000"/><rect x="461" y="233" width="3" height="9" fill="#fff"/>
<rect x="470" y="228" width="1" height="17" fill="#000"/><rect x="468" y="232" width="5" height="11" fill="#000"/>
<rect x="478" y="238" width="1" height="18" fill="#000"/><rect x="476" y="243" width="5" height="6" fill="#000"/>
<rect x="486" y="216" width="1" height="40" fill="#000"/><rect x="484" y="228" width="5" height="21" fill="#000"/><rect x="485" y="229" width="3" height="19" fill="#fff"/>
<rect x="494" y="224" width="1" height="25" fill="#000"/><rect x="492" y="227" width="5" height="15" fill="#000"/>
<rect x="502" y="239" width="1" height="35" fill="#000"/><rect x="500" y="241" width="5" height="3" fill="#000"/>
<rect x="510" y="237" width="1" height="31" fill="#000"/><rect x="508" y="240" width="5" height="4" fill="#000"/><rect x="509" y="241" width="3" height="2" fill="#fff"/>
<rect x="518" y="237" width="1" height="14" fill="#000"/><rect x="516" y="240" width="5" height="8" fill="#000"/>
<rect x="526" y="227" width="1" height="26" fill="#000"/><rect x="524" y="237" width="5" height="11" fill="#000"/><rect x="525" y="238" width="3" height="9" fill="#fff"/>
<rect x="534" y="230" width="1" height="18" fill="#000"/><rect x="532" y="237" width="5" height="10" fill="#000"/>
<rect x="542" y="238" width="1" height="23" fill="#000"/><rect x="540" y="246" width="5" height="12" fill="#000"/>
<rect x="550" y="216" width="1" height="54" fill="#000"/><rect x="548" y="217" width="5" height="41" fill="#000"/><rect x="549" y="218" width="3" height="39" fill="#fff"/>
<rect x="558" y="212" width="1" height="21" fill="#000"/><rect x="556" y="217" width="5" height="13" fill="#000"/>
<rect x="566" y="218" width="1" height="15" fill="#000"/><rect x="564" y="219" width="5" height="9" fill="#000"/><rect x="565" y="220" width="3" height="7" fill="#fff"/>
<rect x="574" y="207" width="1" height="20" fill="#000"/><rect x="572" y="215" width="5" height="5" fill="#000"/><rect x="573" y="216" width="3" height="3" fill="#fff"/>
<rect x="582" y="211" width="1" height="18" fill="#000"/><rect x="580" y="215" width="5" height="6" fill="#000"/>
<rect x="590" y="214" width="1" height="24" fill="#000"/><rect x="588" y="220" width="5" height="2" fill="#000"/>
<rect x="598" y="156" width="1" height="72" fill="#000"/><rect x="596" y="157" width="5" height="65" fill="#000"/><rect x="597" y="158" width="3" height="63" fill="#fff"/>
<rect x="606" y="153" width="1" height="28" fill="#000"/><rect x="604" y="157" width="5" height="22" fill="#000"/>
<rect x="614" y="161" width="1" height="18" fill="#000"/><rect x="612" y="166" width="5" height="13" fill="#000"/><rect x="613" y="167" width="3" height="11" fill="#fff"/>
<rect x="622" y="147" width="1" height="25" fill="#000"/><rect x="620" y="167" width="5" height="3" fill="#000"/>
<rect x="630" y="161" width="1" height="35" fill="#000"/><rect x="628" y="169" width="5" height="26" fill="#000"/>
<rect x="638" y="171" width="1" height="28" fill="#000"/><rect x="636" y="181" width="5" height="14" fill="#000"/><rect x="637" y="182" width="3" height="12" fill="#fff"/>
<rect x="646" y="165" width="1" height="52" fill="#000"/><rect x="644" y="182" width="5" height="18" fill="#000"/>
<rect x="654" y="175" width="1" height="31" fill="#000"/><rect x="652" y="199" width="5" height="1" fill="#000"/>
<rect x="662" y="185" width="1" height="14" fill="#000"/><rect x="660" y="189" width="5" height="9" fill="#000"/><rect x="661" y="190" width="3" height="7" fill="#fff"/>
<rect x="670" y="186" width="1" height="18" fill="#000"/><rect x="668" y="188" width="5" height="8" fill="#000"/>
<rect x="678" y="193" width="1" height="10" fill="#000"/><rect x="676" y="194" width="5" height="2" fill="#000"/>
<rect x="686" y="189" width="1" height="13" fill="#000"/><rect x="684" y="194" width="5" height="5" fill="#000"/>
<rect x="694" y="168" width="1" height="40" fill="#000"/><rect x="692" y="188" width="5" height="11" fill="#000"/><rect x="693" y="189" width="3" height="9" fill="#fff"/>
<rect x="702" y="98" width="1" height="126" fill="#000"/><rect x="700" y="188" width="5" height="8" fill="#000"/>
<rect x="710" y="186" width="1" height="29" fill="#000"/><rect x="708" y="195" width="5" height="11" fill="#000"/>
<rect x="718" y="192" width="1" height="62" fill="#000"/><rect x="716" y="207" width="5" height="41" fill="#000"/>
<rect x="726" y="223" width="1" height="29" fill="#000"/><rect x="724" y="247" width="5" height="4" fill="#000"/>
<rect x="734" y="242" width="1" height="118" fill="#000"/><rect x="732" y="250" width="5" height="93" fill="#000"/>
<rect x="742" y="309" width="1" height="62" fill="#000"/><rect x="740" y="342" width="5" height="23" fill="#000"/>
<rect x="750" y="355" width="1" height="44" fill="#000"/><rect x="748" y="360" width="5" height="25" fill="#000"/>
<rect x="758" y="373" width="1" height="18" fill="#000"/><rect x="756" y="382" width="5" height="4" fill="#000"/><rect x="757" y="383" width="3" height="2" fill="#fff"/>
<rect x="766" y="370" width="1" height="38" fill="#000"/><rect x="764" y="375" width="5" height="3" fill="#000"/><rect x="765" y="376" width="3" height="1" fill="#fff"/>
<rect x="774" y="372" width="1" height="22" fill="#000"/><rect x="772" y="375" width="5" height="18" fill="#000"/>
<rect x="782" y="367" width="1" height="32" fill="#000"/><rect x="780" y="388" width="5" height="4" fill="#000"/><rect x="781" y="389" width="3" height="2" fill="#fff"/>
<rect x="790" y="325" width="1" height="76" fill="#000"/><rect x="788" y="348" width="5" height="42" fill="#000"/><rect x="789" y="349" width="3" height="40" fill="#fff"/>
<rect x="798" y="310" width="1" height="46" fill="#000"/><rect x="796" y="325" width="5" height="23" fill="#000"/><rect x="797" y="326" width="3" height="21" fill="#fff"/>
<rect x="806" y="327" width="1" height="9" fill="#000"/><rect x="804" y="331" width="5" height="4" fill="#000"/>
<rect x="814" y="329" width="1" height="9" fill="#000"/><rect x="812" y="333" width="5" height="1" fill="#000"/>
<rect x="822" y="311" width="1" height="24" fill="#000"/><rect x="820" y="315" width="5" height="19" fill="#000"/><rect x="821" y="316" width="3" height="17" fill="#fff"/>
<rect x="830" y="279" width="1" height="39" fill="#000"/><rect x="828" y="290" width="5" height="26" fill="#000"/><rect x="829" y="291" width="3" height="24" fill="#fff"/>
<rect x="838" y="268" width="1" height="34" fill="#000"/><rect x="836" y="269" width="5" height="22" fill="#000"/><rect x="837" y="270" width="3" height="20" fill="#fff"/>
<rect x="846" y="239" width="1" height="31" fill="#000"/><rect x="844" y="242" width="5" height="28" fill="#000"/><rect x="845" y="243" width="3" height="26" fill="#fff"/>
<rect x="854" y="217" width="1" height="41" fill="#000"/><rect x="852" y="227" width="5" height="16" fill="#000"/><rect x="853" y="228" width="3" height="14" fill="#fff"/>
<rect x="862" y="200" width="1" height="40" fill="#000"/><rect x="860" y="203" width="5" height="26" fill="#000"/><rect x="861" y="204" width="3" height="24" fill="#fff"/>
<rect x="870" y="197" width="1" height="21" fill="#000"/><rect x="868" y="204" width="5" height="5" fill="#000"/>
<rect x="878" y="184" width="1" height="28" fill="#000"/><rect x="876" y="202" width="5" height="7" fill="#000"/><rect x="877" y="203" width="3" height="5" fill="#fff"/>
<rect x="886" y="127" width="1" height="77" fill="#000"/><rect x="884" y="127" width="5" height="76" fill="#000"/><rect x="885" y="128" width="3" height="74" fill="#fff"/>
<rect x="894" y="109" width="1" height="34" fill="#000"/><rect x="892" y="111" width="5" height="17" fill="#000"/><rect x="893" y="112" width="3" height="15" fill="#fff"/>
<rect x="902" y="108" width="1" height="28" fill="#000"/><rect x="900" y="112" width="5" height="19" fill="#000"/>
<rect x="910" y="121" width="1" height="40" fill="#000"/><rect x="908" y="130" width="5" height="27" fill="#000"/>
<rect x="918" y="141" width="1" height="41" fill="#000"/><rect x="916" y="156" width="5" height="12" fill="#000"/>
<rect x="926" y="149" width="1" height="27" fill="#000"/><rect x="924" y="162" width="5" height="6" fill="#000"/><rect x="925" y="163" width="3" height="4" fill="#fff"/>
<rect x="934" y="152" width="1" height="26" fill="#000"/><rect x="932" y="158" width="5" height="4" fill="#000"/><rect x="933" y="159" width="3" height="2" fill="#fff"/>
<rect x="942" y="134" width="1" height="69" fill="#000"/><rect x="940" y="157" width="5" height="18" fill="#000"/>
<rect x="950" y="158" width="1" height="27" fill="#000"/><rect x="948" y="176" width="5" height="5" fill="#000"/>
<rect x="958" y="179" width="1" height="58" fill="#000"/><rect x="956" y="180" width="5" height="54" fill="#000"/>
<rect x="966" y="135" width="1" height="100" fill="#000"/><rect x="964" y="170" width="5" height="64" fill="#000"/><rect x="965" y="171" width="3" height="62" fill="#fff"/>
<rect x="974" y="118" width="1" height="60" fill="#000"/><rect x="972" y="137" width="5" height="35" fill="#000"/><rect x="973" y="138" width="3" height="33" fill="#fff"/>
<rect x="982" y="76" width="1" height="66" fill="#000"/><rect x="980" y="90" width="5" height="48" fill="#000"/><rect x="981" y="91" width="3" height="46" fill="#fff"/>
<rect x="990" y="54" width="1" height="56" fill="#000"/><rect x="988" y="89" width="5" height="6" fill="#000"/>
<rect x="998" y="90" width="1" height="38" fill="#000"/><rect x="996" y="94" width="5" height="9" fill="#000"/>
<rect x="1006" y="72" width="1" height="58" fill="#000"/><rect x="1004" y="102" width="5" height="15" fill="#000"/>
<rect x="1014" y="92" width="1" height="26" fill="#000"/><rect x="1012" y="98" width="5" height="18" fill="#000"/><rect x="1013" y="99" width="3" height="16" fill="#fff"/>
<rect x="1022" y="71" width="1" height="39" fill="#000"/><rect x="1020" y="74" width="5" height="26" fill="#000"/><rect x="1021" y="75" width="3" height="24" fill="#fff"/>
<rect x="1030" y="56" width="1" height="89" fill="#000"/><rect x="1028" y="74" width="5" height="56" fill="#000"/>
<rect x="1038" y="117" width="1" height="28" fill="#000"/><rect x="1036" y="126" width="5" height="5" fill="#000"/><rect x="1037" y="127" width="3" height="3" fill="#fff"/>
<rect x="1046" y="105" width="1" height="12" fill="#000"/><rect x="1044" y="111" width="5" height="6" fill="#000"/>
<rect x="1054" y="108" width="1" height="52" fill="#000"/><rect x="1052" y="119" width="5" height="30" fill="#000"/>
<rect x="1062" y="148" width="1" height="33" fill="#000"/><rect x="1060" y="149" width="5" height="22" fill="#000"/>
<rect x="1070" y="156" width="1" height="22" fill="#000"/><rect x="1068" y="170" width="5" height="4" fill="#000"/>
<rect x="1078" y="138" width="1" height="47" fill="#000"/><rect x="1076" y="140" width="5" height="34" fill="#000"/><rect x="1077" y="141" width="3" height="32" fill="#fff"/>
<rect x="1086" y="137" width="1" height="30" fill="#000"/><rect x="1084" y="140" width="5" height="15" fill="#000"/>
<rect x="1094" y="146" width="1" height="13" fill="#000"/><rect x="1092" y="152" width="5" height="4" fill="#000"/><rect x="1093" y="153" width="3" height="2" fill="#fff"/>
<rect x="1102" y="122" width="1" height="43" fill="#000"/><rect x="1100" y="129" width="5" height="23" fill="#000"/><rect x="1101" y="130" width="3" height="21" fill="#fff"/>
<rect x="1110" y="97" width="1" height="39" fill="#000"/><rect x="1108" y="108" width="5" height="22" fill="#000"/><rect x="1109" y="109" width="3" height="20" fill="#fff"/>
<rect x="1118" y="100" width="1" height="32" fill="#000"/><rect x="1116" y="110" width="5" height="4" fill="#000"/>
<rect x="1126" y="108" width="1" height="41" fill="#000"/><rect x="1124" y="112" width="5" height="19" fill="#000"/>
<rect x="1134" y="124" width="1" height="55" fill="#000"/><rect x="1132" y="129" width="5" height="43" fill="#000"/>
<rect x="1142" y="154" width="1" height="20" fill="#000"/><rect x="1140" y="162" width="5" height="9" fill="#000"/><rect x="1141" y="163" width="3" height="7" fill="#fff"/>
<rect x="1150" y="144" width="1" height="47" fill="#000"/><rect x="1148" y="152" width="5" height="12" fill="#000"/><rect x="1149" y="153" width="3" height="10" fill="#fff"/>
<rect x="1158" y="138" width="1" height="18" fill="#000"/><rect x="1156" y="147" width="5" height="6" fill="#000"/><rect x="1157" y="148" width="3" height="4" fill="#fff"/>
<rect x="1166" y="128" width="1" height="65" fill="#000"/><rect x="1164" y="148" width="5" height="31" fill="#000"/>
<rect x="1174" y="176" width="1" height="61" fill="#000"/><rect x="1172" y="178" width="5" height="48" fill="#000"/>
<rect x="1182" y="194" width="1" height="45" fill="#000"/><rect x="1180" y="211" width="5" height="14" fill="#000"/><rect x="1181" y="212" width="3" height="12" fill="#fff"/>
<rect x="1190" y="194" width="1" height="22" fill="#000"/><rect x="1188" y="206" width="5" height="6" fill="#000"/><rect x="1189" y="207" width="3" height="4" fill="#fff"/>
<rect x="1198" y="192" width="1" height="38" fill="#000"/><rect x="1196" y="206" width="5" height="24" fill="#000"/>
<rect x="1206" y="212" width="1" height="32" fill="#000"/><rect x="1204" y="217" width="5" height="16" fill="#000"/><rect x="1205" y="218" width="3" height="14" fill="#fff"/>
<rect x="1214" y="214" width="1" height="44" fill="#000"/><rect x="1212" y="218" width="5" height="18" fill="#000"/>
<rect x="1222" y="232" width="1" height="25" fill="#000"/><rect x="1220" y="232" width="5" height="24" fill="#000"/>
<rect x="1230" y="252" width="1" height="78" fill="#000"/><rect x="1228" y="256" width="5" height="44" fill="#000"/>
<rect x="1238" y="270" width="1" height="30" fill="#000"/><rect x="1236" y="273" width="5" height="26" fill="#000"/><rect x="1237" y="274" width="3" height="24" fill="#fff"/>
<rect x="1246" y="243" width="1" height="40" fill="#000"/><rect x="1244" y="253" width="5" height="21" fill="#000"/><rect x="1245" y="254" width="3" height="19" fill="#fff"/>
<rect x="1254" y="248" width="1" height="18" fill="#000"/><rect x="1252" y="254" width="5" height="8" fill="#000"/>
<rect x="1262" y="235" width="1" height="42" fill="#000"/><rect x="1260" y="238" width="5" height="24" fill="#000"/><rect x="1261" y="239" width="3" height="22" fill="#fff"/>
<rect x="1270" y="211" width="1" height="31" fill="#000"/><rect x="1268" y="222" width="5" height="16" fill="#000"/><rect x="1269" y="223" width="3" height="14" fill="#fff"/>
<rect x="1278" y="193" width="1" height="30" fill="#000"/><rect x="1276" y="199" width="5" height="24" fill="#000"/><rect x="1277" y="200" width="3" height="22" fill="#fff"/>
<rect x="1197" y="226" width="120" height="9" fill="#00ff00"/>
<rect x="1270" y="211" width="1" height="31" fill="#000"/><rect x="1268" y="222" width="5" height="16" fill="#000"/><rect x="1269" y="223" width="3" height="14" fill="#fff"/>
<rect x="1278" y="193" width="1" height="30" fill="#000"/><rect x="1276" y="199" width="5" height="24" fill="#000"/><rect x="1277" y="200" width="3" height="22" fill="#fff"/>
<rect x="6" y="668" width="1" height="17" fill="#c0c0c0"/>
<rect x="14" y="666" width="1" height="19" fill="#c0c0c0"/>
<rect x="22" y="654" width="1" height="31" fill="#c0c0c0"/>
<rect x="30" y="644" width="1" height="41" fill="#c0c0c0"/>
<rect x="38" y="638" width="1" height="47" fill="#c0c0c0"/>
<rect x="46" y="632" width="1" height="53" fill="#c0c0c0"/>
<rect x="54" y="629" width="1" height="56" fill="#c0c0c0"/>
<rect x="62" y="615" width="1" height="70" fill="#c0c0c0"/>
<rect x="70" y="603" width="1" height="82" fill="#c0c0c0"/>
<rect x="78" y="596" width="1" height="89" fill="#c0c0c0"/>
<rect x="86" y="594" width="1" height="91" fill="#c0c0c0"/>
<rect x="94" y="595" width="1" height="90" fill="#c0c0c0"/>
<rect x="102" y="597" width="1" height="88" fill="#c0c0c0"/>
<rect x="110" y="601" width="1" height="84" fill="#c0c0c0"/>
<rect x="118" y="601" width="1" height="84" fill="#c0c0c0"/>
<rect x="126" y="602" width="1" height="83" fill="#c0c0c0"/>
<rect x="134" y="604" width="1" height="81" fill="#c0c0c0"/>
<rect x="142" y="608" width="1" height="77" fill="#c0c0c0"/>
<rect x="150" y="612" width="1" height="73" fill="#c0c0c0"/>
<rect x="158" y="616" width="1" height="69" fill="#c0c0c0"/>
<rect x="166" y="608" width="1" height="77" fill="#c0c0c0"/>
<rect x="174" y="602" width="1" height="83" fill="#c0c0c0"/>
<rect x="182" y="600" width="1" height="85" fill="#c0c0c0"/>
<rect x="190" y="602" width="1" height="83" fill="#c0c0c0"/>
<rect x="198" y="606" width="1" height="79" fill="#c0c0c0"/>
<rect x="206" y="607" width="1" height="78" fill="#c0c0c0"/>
<rect x="214" y="610" width="1" height="75" fill="#c0c0c0"/>
<rect x="222" y="611" width="1" height="74" fill="#c0c0c0"/>
<rect x="230" y="615" width="1" height="70" fill="#c0c0c0"/>
<rect x="238" y="617" width="1" height="68" fill="#c0c0c0"/>
<rect x="246" y="618" width="1" height="67" fill="#c0c0c0"/>
<rect x="254" y="622" width="1" height="63" fill="#c0c0c0"/>
<rect x="262" y="630" width="1" height="55" fill="#c0c0c0"/>
<rect x="270" y="635" width="1" height="50" fill="#c0c0c0"/>
<rect x="278" y="640" width="1" height="45" fill="#c0c0c0"/>
<rect x="286" y="646" width="1" height="39" fill="#c0c0c0"/>
<rect x="294" y="648" width="1" height="37" fill="#c0c0c0"/>
<rect x="302" y="652" width="1" height="33" fill="#c0c0c0"/>
<rect x="310" y="659" width="1" height="26" fill="#c0c0c0"/>
<rect x="318" y="664" width="1" height="21" fill="#c0c0c0"/>
<rect x="326" y="669" width="1" height="16" fill="#c0c0c0"/>
<rect x="334" y="672" width="1" height="13" fill="#c0c0c0"/>
<rect x="342" y="673" width="1" height="12" fill="#c0c0c0"/>
<rect x="350" y="673" width="1" height="12" fill="#c0c0c0"/>
<rect x="358" y="673" width="1" height="12" fill="#c0c0c0"/>
<rect x="366" y="673" width="1" height="12" fill="#c0c0c0"/>
<rect x="374" y="673" width="1" height="12" fill="#c0c0c0"/>
<rect x="382" y="672" width="1" height="13" fill="#c0c0c0"/>
<rect x="390" y="673" width="1" height="12" fill="#c0c0c0"/>
<rect x="398" y="674" width="1" height="11" fill="#c0c0c0"/>
<rect x="406" y="675" width="1" height="10" fill="#c0c0c0"/>
<rect x="414" y="678" width="1" height="7" fill="#c0c0c0"/>
<rect x="422" y="680" width="1" height="5" fill="#c0c0c0"/>
<rect x="438" y="684" width="1" height="4" fill="#c0c0c0"/>
<rect x="446" y="684" width="1" height="4" fill="#c0c0c0"/>
<rect x="462" y="682" width="1" height="3" fill="#c0c0c0"/>
<rect x="470" y="679" width="1" height="6" fill="#c0c0c0"/>
<rect x="478" y="679" width="1" height="6" fill="#c0c0c0"/>
<rect x="486" y="676" width="1" height="9" fill="#c0c0c0"/>
<rect x="494" y="675" width="1" height="10" fill="#c0c0c0"/>
<rect x="502" y="675" width="1" height="10" fill="#c0c0c0"/>
<rect x="510" y="675" width="1" height="10" fill="#c0c0c0"/>
<rect x="518" y="675" width="1" height="10" fill="#c0c0c0"/>
<rect x="526" y="676" width="1" height="9" fill="#c0c0c0"/>
<rect x="534" y="676" width="1" height="9" fill="#c0c0c0"/>
<rect x="542" y="677" width="1" height="8" fill="#c0c0c0"/>
<rect x="550" y="674" width="1" height="11" fill="#c0c0c0"/>
<rect x="558" y="674" width="1" height="11" fill="#c0c0c0"/>
<rect x="566" y="672" width="1" height="13" fill="#c0c0c0"/>
<rect x="574" y="671" width="1" height="14" fill="#c0c0c0"/>
<rect x="582" y="671" width="1" height="14" fill="#c0c0c0"/>
<rect x="590" y="670" width="1" height="15" fill="#c0c0c0"/>
<rect x="598" y="664" width="1" height="21" fill="#c0c0c0"/>
<rect x="606" y="661" width="1" height="24" fill="#c0c0c0"/>
<rect x="614" y="658" width="1" height="27" fill="#c0c0c0"/>
<rect x="622" y="657" width="1" height="28" fill="#c0c0c0"/>
<rect x="630" y="658" width="1" height="27" fill="#c0c0c0"/>
<rect x="638" y="658" width="1" height="27" fill="#c0c0c0"/>
<rect x="646" y="661" width="1" height="24" fill="#c0c0c0"/>
<rect x="654" y="662" width="1" height="23" fill="#c0c0c0"/>
<rect x="662" y="663" width="1" height="22" fill="#c0c0c0"/>
<rect x="670" y="665" width="1" height="20" fill="#c0c0c0"/>
<rect x="678" y="666" width="1" height="19" fill="#c0c0c0"/>
<rect x="686" y="668" width="1" height="17" fill="#c0c0c0"/>
<rect x="694" y="668" width="1" height="17" fill="#c0c0c0"/>
<rect x="702" y="669" width="1" height="16" fill="#c0c0c0"/>
<rect x="710" y="672" width="1" height="13" fill="#c0c0c0"/>
<rect x="718" y="678" width="1" height="7" fill="#c0c0c0"/>
<rect x="726" y="683" width="1" height="2" fill="#c0c0c0"/>
<rect x="734" y="684" width="1" height="12" fill="#c0c0c0"/>
<rect x="742" y="684" width="1" height="24" fill="#c0c0c0"/>
<rect x="750" y="684" width="1" height="36" fill="#c0c0c0"/>
<rect x="758" y="684" width="1" height="45" fill="#c0c0c0"/>
<rect x="766" y="684" width="1" height="50" fill="#c0c0c0"/>
<rect x="774" y="684" width="1" height="56" fill="#c0c0c0"/>
<rect x="782" y="684" width="1" height="59" fill="#c0c0c0"/>
<rect x="790" y="684" width="1" height="57" fill="#c0c0c0"/>
<rect x="798" y="684" width="1" height="52" fill="#c0c0c0"/>
<rect x="806" y="684" width="1" height="47" fill="#c0c0c0"/>
<rect x="814" y="684" width="1" height="45" fill="#c0c0c0"/>
<rect x="822" y="684" width="1" height="40" fill="#c0c0c0"/>
<rect x="830" y="684" width="1" height="33" fill="#c0c0c0"/>
<rect x="838" y="684" width="1" height="25" fill="#c0c0c0"/>
<rect x="846" y="684" width="1" height="16" fill="#c0c0c0"/>
<rect x="854" y="684" width="1" height="7" fill="#c0c0c0"/>
<rect x="862" y="682" width="1" height="3" fill="#c0c0c0"/>
<rect x="870" y="675" width="1" height="10" fill="#c0c0c0"/>
<rect x="878" y="669" width="1" height="16" fill="#c0c0c0"/>
<rect x="886" y="657" width="1" height="28" fill="#c0c0c0"/>
<rect x="894" y="646" width="1" height="39" fill="#c0c0c0"/>
<rect x="902" y="640" width="1" height="45" fill="#c0c0c0"/>
<rect x="910" y="639" width="1" height="46" fill="#c0c0c0"/>
<rect x="918" y="639" width="1" height="46" fill="#c0c0c0"/>
<rect x="926" y="639" width="1" height="46" fill="#c0c0c0"/>
<rect x="934" y="640" width="1" height="45" fill="#c0c0c0"/>
<rect x="942" y="642" width="1" height="43" fill="#c0c0c0"/>
<rect x="950" y="645" width="1" height="40" fill="#c0c0c0"/>
<rect x="958" y="653" width="1" height="32" fill="#c0c0c0"/>
<rect x="966" y="654" width="1" height="31" fill="#c0c0c0"/>
<rect x="974" y="651" width="1" height="34" fill="#c0c0c0"/>
<rect x="982" y="645" width="1" height="40" fill="#c0c0c0"/>
<rect x="990" y="640" width="1" height="45" fill="#c0c0c0"/>
<rect x="998" y="638" width="1" height="47" fill="#c0c0c0"/>
<rect x="1006" y="638" width="1" height="47" fill="#c0c0c0"/>
<rect x="1014" y="637" width="1" height="48" fill="#c0c0c0"/>
<rect x="1022" y="635" width="1" height="50" fill="#c0c0c0"/>
<rect x="1030" y="639" width="1" height="46" fill="#c0c0c0"/>
<rect x="1038" y="642" width="1" height="43" fill="#c0c0c0"/>
<rect x="1046" y="644" width="1" height="41" fill="#c0c0c0"/>
<rect x="1054" y="650" width="1" height="35" fill="#c0c0c0"/>
<rect x="1062" y="657" width="1" height="28" fill="#c0c0c0"/>
<rect x="1070" y="663" width="1" height="22" fill="#c0c0c0"/>
<rect x="1078" y="664" width="1" height="21" fill="#c0c0c0"/>
<rect x="1086" y="667" width="1" height="18" fill="#c0c0c0"/>
<rect x="1094" y="669" width="1" height="16" fill="#c0c0c0"/>
<rect x="1102" y="669" width="1" height="16" fill="#c0c0c0"/>
<rect x="1110" y="667" width="1" height="18" fill="#c0c0c0"/>
<rect x="1118" y="666" width="1" height="19" fill="#c0c0c0"/>
<rect x="1126" y="667" width="1" height="18" fill="#c0c0c0"/>
<rect x="1134" y="672" width="1" height="13" fill="#c0c0c0"/>
<rect x="1142" y="675" width="1" height="10" fill="#c0c0c0"/>
<rect x="1150" y="677" width="1" height="8" fill="#c0c0c0"/>
<rect x="1158" y="678" width="1" height="7" fill="#c0c0c0"/>
<rect x="1166" y="682" width="1" height="3" fill="#c0c0c0"/>
<rect x="1174" y="684" width="1" height="5" fill="#c0c0c0"/>
<rect x="1182" y="684" width="1" height="10" fill="#c0c0c0"/>
<rect x="1190" y="684" width="1" height="13" fill="#c0c0c0"/>
<rect x="1198" y="684" width="1" height="17" fill="#c0c0c0"/>
<rect x="1206" y="684" width="1" height="20" fill="#c0c0c0"/>
<rect x="1214" y="684" width="1" height="23" fill="#c0c0c0"/>
<rect x="1222" y="684" width="1" height="27" fill="#c0c0c0"/>
<rect x="1230" y="684" width="1" height="35" fill="#c0c0c0"/>
<rect x="1238" y="684" width="1" height="38" fill="#c0c0c0"/>
<rect x="1246" y="684" width="1" height="38" fill="#c0c0c0"/>
<rect x="1254" y="684" width="1" height="38" fill="#c0c0c0"/>
<rect x="1262" y="684" width="1" height="35" fill="#c0c0c0"/>
<rect x="1270" y="684" width="1" height="31" fill="#c0c0c0"/>
<rect x="1278" y="684" width="1" height="25" fill="#c0c0c0"/>
<path d="M174 605h3v1h-3zM180 605h3v1h-3zM186 605h3v1h-3zM192 605h3v1h-3zM198 605h3v1h-3zM204 605h2v1h-2zM427 675h2v1h-2zM432 675h2v1h-2zM534 675h3v1h-3zM540 675h3v1h-3zM546 675h2v1h-2zM444 678h3v1h-3zM516 678h3v1h-3zM108 606h2v1h-2zM210 606h3v1h-3zM216 606h3v1h-3zM222 606h3v1h-3zM228 606h3v1h-3zM234 606h3v1h-3zM648 661h3v1h-3zM685 661h2v1h-2zM1113 661h2v1h-2zM815 734h3v1h-3zM821 734h3v1h-3zM319 644h2v1h-2zM944 644h3v1h-3zM974 644h3v1h-3zM980 644h3v1h-3zM986 644h3v1h-3zM992 644h3v1h-3zM998 644h3v1h-3zM1004 644h3v1h-3zM1010 644h3v1h-3zM1016 644h3v1h-3zM1070 644h3v1h-3zM857 717h2v1h-2zM630 664h3v1h-3zM702 664h3v1h-3zM1124 664h3v1h-3zM13 680h2v1h-2zM456 680h3v1h-3zM498 680h3v1h-3zM504 680h2v1h-2zM744 680h2v1h-2zM271 618h2v1h-2zM1077 647h2v1h-2zM48 656h2v1h-2zM396 672h3v1h-3zM402 672h3v1h-3zM408 672h2v1h-2zM588 672h3v1h-3zM594 672h2v1h-2zM732 672h2v1h-2zM950 643h3v1h-3zM956 643h3v1h-3zM962 643h3v1h-3zM968 643h2v1h-2zM1022 643h3v1h-3zM438 677h3v1h-3zM522 677h2v1h-2zM157 603h2v1h-2zM642 662h2v1h-2zM691 662h2v1h-2zM378 669h2v1h-2zM613 669h2v1h-2zM1148 669h3v1h-3zM114 604h2v1h-2zM162 604h3v1h-3zM168 604h2v1h-2zM468 682h3v1h-3zM474 682h3v1h-3zM480 682h3v1h-3zM486 682h3v1h-3zM1191 682h2v1h-2zM390 671h2v1h-2zM600 671h2v1h-2zM1160 671h3v1h-3zM360 665h2v1h-2zM708 665h3v1h-3zM1130 665h3v1h-3zM294 629h2v1h-2zM1256 713h3v1h-3zM246 609h2v1h-2zM384 670h2v1h-2zM606 670h3v1h-3zM726 670h3v1h-3zM1154 670h3v1h-3zM833 732h2v1h-2zM1244 708h3v1h-3zM355 663h2v1h-2zM636 663h2v1h-2zM697 663h2v1h-2zM1118 663h3v1h-3zM462 681h3v1h-3zM492 681h3v1h-3zM933 649h2v1h-2zM1 687h2v1h-2zM1202 687h3v1h-3zM336 654h2v1h-2zM67 641h2v1h-2zM1029 641h2v1h-2zM42 660h2v1h-2zM348 660h2v1h-2zM654 660h3v1h-3zM672 660h3v1h-3zM678 660h3v1h-3zM660 659h3v1h-3zM666 659h3v1h-3zM1107 659h2v1h-2zM6 684h2v1h-2zM1064 642h3v1h-3zM1239 706h2v1h-2zM420 674h3v1h-3zM552 674h3v1h-3zM558 674h3v1h-3zM564 674h3v1h-3zM570 674h3v1h-3zM576 674h3v1h-3zM582 674h3v1h-3zM1172 674h3v1h-3zM342 657h2v1h-2zM1100 657h3v1h-3zM1197 685h2v1h-2zM132 598h3v1h-3zM138 598h3v1h-3zM144 598h2v1h-2zM1040 639h3v1h-3zM1046 639h3v1h-3zM1052 639h3v1h-3zM809 733h3v1h-3zM827 733h3v1h-3zM312 640h2v1h-2zM1034 640h3v1h-3zM1058 640h3v1h-3zM757 691h2v1h-2zM300 632h2v1h-2zM330 651h2v1h-2zM528 676h2v1h-2zM1179 676h2v1h-2zM625 666h2v1h-2zM1221 696h2v1h-2zM450 679h3v1h-3zM510 679h3v1h-3zM1185 679h2v1h-2zM264 615h2v1h-2zM288 626h2v1h-2zM1268 716h3v1h-3zM1274 716h3v1h-3zM30 668h2v1h-2zM372 668h2v1h-2zM720 668h2v1h-2zM1142 668h3v1h-3zM1095 655h2v1h-2zM259 613h2v1h-2zM1262 714h3v1h-3zM1088 652h3v1h-3zM366 667h2v1h-2zM618 667h3v1h-3zM714 667h3v1h-3zM1137 667h2v1h-2zM804 731h2v1h-2zM120 602h2v1h-2zM276 620h2v1h-2zM150 601h3v1h-3zM414 673h2v1h-2zM1167 673h2v1h-2zM90 619h2v1h-2zM241 608h2v1h-2zM126 599h3v1h-3zM253 611h2v1h-2zM1251 711h2v1h-2zM1209 690h2v1h-2zM96 614h2v1h-2zM1083 650h2v1h-2zM1226 698h2v1h-2zM939 646h2v1h-2zM325 648h2v1h-2zM282 623h2v1h-2zM797 727h2v1h-2zM1215 693h2v1h-2zM840 729h2v1h-2zM870 707h2v1h-2zM852 721h2v1h-2zM362 666h1v1h-1zM1112 660h1v1h-1zM899 678h1v1h-1zM1250 710h1v1h-1zM73 636h1v1h-1zM1196 684h1v1h-1zM12 681h1v1h-1zM332 652h1v1h-1zM38 663h1v1h-1zM98 613h1v1h-1zM24 673h1v1h-1zM104 608h1v1h-1zM110 605h1v1h-1zM50 655h1v1h-1zM290 627h1v1h-1zM768 700h1v1h-1zM36 665h1v1h-1zM928 652h1v1h-1zM37 664h1v1h-1zM847 725h1v1h-1zM102 610h1v1h-1zM1214 692h1v1h-1zM86 623h1v1h-1zM922 657h1v1h-1zM690 661h1v1h-1zM92 618h1v1h-1zM938 647h1v1h-1zM845 727h1v1h-1zM374 669h1v1h-1zM306 635h1v1h-1zM1106 658h1v1h-1zM1184 678h1v1h-1zM803 730h1v1h-1zM1166 672h1v1h-1zM920 659h1v1h-1zM921 658h1v1h-1zM368 668h1v1h-1zM892 686h1v1h-1zM910 667h1v1h-1zM18 677h1v1h-1zM602 670h1v1h-1zM769 701h1v1h-1zM762 695h1v1h-1zM779 711h1v1h-1zM882 696h1v1h-1zM835 731h1v1h-1zM410 673h1v1h-1zM903 673h1v1h-1zM908 669h1v1h-1zM909 668h1v1h-1zM278 621h1v1h-1zM307 636h1v1h-1zM792 723h1v1h-1zM270 617h1v1h-1zM302 633h1v1h-1zM74 635h1v1h-1zM799 728h1v1h-1zM308 637h1v1h-1zM72 637h1v1h-1zM1028 642h1v1h-1zM80 629h1v1h-1zM898 679h1v1h-1zM793 724h1v1h-1zM786 718h1v1h-1zM170 605h1v1h-1zM8 683h1v1h-1zM764 697h1v1h-1zM781 713h1v1h-1zM839 730h1v1h-1zM103 609h1v1h-1zM0 688h1v1h-1zM876 703h1v1h-1zM894 684h1v1h-1zM20 675h1v1h-1zM897 680h1v1h-1zM1094 654h1v1h-1zM66 642h1v1h-1zM846 726h1v1h-1zM1233 702h1v1h-1zM851 722h1v1h-1zM324 647h1v1h-1zM32 667h1v1h-1zM927 653h1v1h-1zM893 685h1v1h-1zM19 676h1v1h-1zM240 607h1v1h-1zM926 654h1v1h-1zM915 663h1v1h-1zM84 625h1v1h-1zM44 659h1v1h-1zM970 644h1v1h-1zM638 662h1v1h-1zM750 684h1v1h-1zM914 664h1v1h-1zM55 652h1v1h-1zM56 651h1v1h-1zM763 696h1v1h-1zM780 712h1v1h-1zM434 676h1v1h-1zM774 705h1v1h-1zM751 685h1v1h-1zM1208 689h1v1h-1zM880 698h1v1h-1zM881 697h1v1h-1zM902 674h1v1h-1zM1076 646h1v1h-1zM350 661h1v1h-1zM775 706h1v1h-1zM1238 705h1v1h-1zM122 601h1v1h-1zM877 702h1v1h-1zM392 672h1v1h-1zM426 674h1v1h-1zM875 704h1v1h-1zM644 661h1v1h-1zM206 606h1v1h-1zM740 677h1v1h-1zM787 719h1v1h-1zM78 631h1v1h-1zM624 667h1v1h-1zM776 707h1v1h-1zM696 662h1v1h-1zM318 643h1v1h-1zM338 655h1v1h-1zM1234 703h1v1h-1zM734 673h1v1h-1zM548 674h1v1h-1zM296 630h1v1h-1zM1190 681h1v1h-1zM859 716h1v1h-1zM62 646h1v1h-1zM416 674h1v1h-1zM266 616h1v1h-1zM26 671h1v1h-1zM258 612h1v1h-1zM60 648h1v1h-1zM61 647h1v1h-1zM612 670h1v1h-1zM524 676h1v1h-1zM785 717h1v1h-1zM932 650h1v1h-1zM596 671h1v1h-1zM756 690h1v1h-1zM887 691h1v1h-1zM248 610h1v1h-1zM888 690h1v1h-1zM146 599h1v1h-1zM25 672h1v1h-1zM752 686h1v1h-1zM252 610h1v1h-1zM54 653h1v1h-1zM1232 701h1v1h-1zM284 624h1v1h-1zM738 675h1v1h-1zM1178 675h1v1h-1zM506 679h1v1h-1zM886 692h1v1h-1zM79 630h1v1h-1zM386 671h1v1h-1zM116 603h1v1h-1zM1136 666h1v1h-1zM739 676h1v1h-1zM722 669h1v1h-1zM380 670h1v1h-1zM1082 649h1v1h-1zM156 602h1v1h-1zM916 662h1v1h-1zM85 624h1v1h-1zM746 681h1v1h-1zM791 722h1v1h-1zM684 660h1v1h-1zM344 658h1v1h-1zM1228 699h1v1h-1zM1220 695h1v1h-1zM865 711h1v1h-1zM530 675h1v1h-1zM904 672h1v1h-1zM770 702h1v1h-1zM354 662h1v1h-1zM863 713h1v1h-1zM864 712h1v1h-1zM869 708h1v1h-1zM314 641h1v1h-1z" fill="#ff0000"/>
<line x1="0" y1="789.5" x2="1617" y2="789.5" stroke="#c0c0c0" stroke-width="1" stroke-dasharray="3 3"/>
<line x1="0" y1="840.5" x2="1617" y2="840.5" stroke="#c0c0c0" stroke-width="1" stroke-dasharray="3 3"/>
<line x1="0" y1="901.5" x2="1617" y2="901.5" stroke="#c0c0c0" stroke-width="1" stroke-dasharray="3 3"/>
<path d="M409 842h2v1h-2zM1059 842h2v1h-2zM1147 842h2v1h-2zM34 814h2v1h-2zM42 814h2v1h-2zM50 814h2v1h-2zM135 814h2v1h-2zM190 814h2v1h-2zM204 814h2v1h-2zM209 814h4v1h-4zM217 814h4v1h-4zM241 814h4v1h-4zM865 814h4v1h-4zM875 814h4v1h-4zM992 814h2v1h-2zM38 816h2v1h-2zM97 816h2v1h-2zM194 816h2v1h-2zM201 816h2v1h-2zM225 816h2v1h-2zM236 816h2v1h-2zM611 816h2v1h-2zM617 816h4v1h-4zM911 816h2v1h-2zM996 816h2v1h-2zM1015 816h2v1h-2zM310 844h10v1h-10zM1062 844h5v1h-5zM1142 844h2v1h-2zM1271 844h2v1h-2zM265 835h2v1h-2zM285 835h3v1h-3zM342 835h5v1h-5zM353 835h4v1h-4zM399 835h2v1h-2zM516 835h2v1h-2zM520 835h2v1h-2zM532 835h2v1h-2zM703 835h2v1h-2zM1078 835h2v1h-2zM2 830h2v1h-2zM11 830h2v1h-2zM378 830h2v1h-2zM456 830h2v1h-2zM468 830h2v1h-2zM483 830h2v1h-2zM489 830h2v1h-2zM556 830h2v1h-2zM560 830h2v1h-2zM660 830h2v1h-2zM664 830h3v1h-3zM692 830h2v1h-2zM695 830h2v1h-2zM1037 830h4v1h-4zM4 831h2v1h-2zM8 831h3v1h-3zM294 831h2v1h-2zM365 831h6v1h-6zM376 831h2v1h-2zM454 831h2v1h-2zM470 831h2v1h-2zM558 831h2v1h-2zM658 831h2v1h-2zM667 831h2v1h-2zM697 831h2v1h-2zM1033 831h4v1h-4zM1103 831h2v1h-2zM335 840h2v1h-2zM539 840h2v1h-2zM1091 840h4v1h-4zM1153 840h4v1h-4zM107 819h4v1h-4zM142 819h3v1h-3zM157 819h2v1h-2zM231 819h2v1h-2zM916 819h2v1h-2zM923 819h8v1h-8zM1002 819h2v1h-2zM1010 819h2v1h-2zM1218 864h2v1h-2zM62 800h5v1h-5zM75 800h6v1h-6zM171 800h4v1h-4zM798 854h2v1h-2zM180 804h2v1h-2zM111 818h2v1h-2zM145 818h4v1h-4zM153 818h4v1h-4zM233 818h2v1h-2zM606 818h2v1h-2zM855 818h2v1h-2zM931 818h4v1h-4zM1000 818h2v1h-2zM1012 818h2v1h-2zM268 833h2v1h-2zM275 833h6v1h-6zM290 833h2v1h-2zM298 833h2v1h-2zM360 833h3v1h-3zM475 833h2v1h-2zM479 833h2v1h-2zM494 833h5v1h-5zM505 833h4v1h-4zM512 833h2v1h-2zM524 833h2v1h-2zM528 833h2v1h-2zM646 833h10v1h-10zM681 833h4v1h-4zM687 833h2v1h-2zM700 833h2v1h-2zM886 798h3v1h-3zM462 827h2v1h-2zM551 827h2v1h-2zM566 827h3v1h-3zM579 827h2v1h-2zM633 827h2v1h-2zM949 827h2v1h-2zM1113 827h4v1h-4zM391 839h2v1h-2zM1055 839h2v1h-2zM1086 839h5v1h-5zM1157 839h2v1h-2zM742 887h2v1h-2zM762 887h2v1h-2zM771 887h2v1h-2zM777 887h4v1h-4zM281 834h4v1h-4zM288 834h2v1h-2zM300 834h2v1h-2zM357 834h3v1h-3zM477 834h2v1h-2zM499 834h6v1h-6zM514 834h2v1h-2zM522 834h2v1h-2zM530 834h2v1h-2zM685 834h2v1h-2zM1214 862h2v1h-2zM320 845h2v1h-2zM329 845h2v1h-2zM419 845h4v1h-4zM1067 845h4v1h-4zM1140 845h2v1h-2zM718 858h3v1h-3zM1180 858h2v1h-2zM1202 858h2v1h-2zM1248 858h3v1h-3zM1144 843h3v1h-3zM81 801h4v1h-4zM166 801h5v1h-5zM175 801h2v1h-2zM404 838h2v1h-2zM707 838h2v1h-2zM1084 838h2v1h-2zM721 859h4v1h-4zM1196 859h2v1h-2zM1200 859h2v1h-2zM1251 859h2v1h-2zM569 826h4v1h-4zM576 826h3v1h-3zM945 826h4v1h-4zM1110 826h3v1h-3zM460 828h2v1h-2zM464 828h2v1h-2zM553 828h2v1h-2zM564 828h2v1h-2zM581 828h6v1h-6zM631 828h2v1h-2zM1045 828h2v1h-2zM1107 828h2v1h-2zM1117 828h2v1h-2zM1134 848h2v1h-2zM102 820h5v1h-5zM852 820h2v1h-2zM918 820h5v1h-5zM1004 820h2v1h-2zM1008 820h2v1h-2zM740 886h2v1h-2zM764 886h2v1h-2zM768 886h3v1h-3zM781 886h2v1h-2zM32 813h2v1h-2zM44 813h2v1h-2zM48 813h2v1h-2zM118 813h17v1h-17zM206 813h3v1h-3zM221 813h2v1h-2zM245 813h2v1h-2zM862 813h3v1h-3zM987 813h5v1h-5zM1020 813h3v1h-3zM433 856h2v1h-2zM803 856h2v1h-2zM1185 856h4v1h-4zM1191 856h2v1h-2zM36 815h2v1h-2zM40 815h2v1h-2zM52 815h3v1h-3zM115 815h2v1h-2zM192 815h2v1h-2zM213 815h4v1h-4zM238 815h3v1h-3zM613 815h4v1h-4zM859 815h2v1h-2zM869 815h6v1h-6zM994 815h2v1h-2zM1017 815h2v1h-2zM0 829h2v1h-2zM13 829h2v1h-2zM380 829h2v1h-2zM458 829h2v1h-2zM466 829h2v1h-2zM487 829h2v1h-2zM562 829h2v1h-2zM587 829h4v1h-4zM662 829h2v1h-2zM1041 829h4v1h-4zM1119 829h2v1h-2zM1175 861h2v1h-2zM805 857h10v1h-10zM1182 857h3v1h-3zM1193 857h2v1h-2zM1204 857h2v1h-2zM1207 857h2v1h-2zM1246 857h2v1h-2zM573 825h3v1h-3zM636 825h2v1h-2zM942 825h3v1h-3zM969 825h2v1h-2zM749 890h6v1h-6zM263 836h2v1h-2zM347 836h6v1h-6zM395 836h2v1h-2zM401 836h2v1h-2zM518 836h2v1h-2zM1080 836h2v1h-2zM324 847h2v1h-2zM1136 847h2v1h-2zM1267 847h2v1h-2zM339 837h2v1h-2zM535 837h2v1h-2zM1082 837h2v1h-2zM889 797h4v1h-4zM541 841h2v1h-2zM1149 841h4v1h-4zM1275 841h2v1h-2zM6 832h2v1h-2zM270 832h5v1h-5zM292 832h2v1h-2zM296 832h2v1h-2zM363 832h2v1h-2zM371 832h5v1h-5zM472 832h3v1h-3zM492 832h2v1h-2zM509 832h3v1h-3zM526 832h2v1h-2zM656 832h2v1h-2zM669 832h12v1h-12zM689 832h2v1h-2zM1030 832h3v1h-3zM1123 832h2v1h-2zM598 808h2v1h-2zM67 799h8v1h-8zM22 812h10v1h-10zM46 812h2v1h-2zM982 812h5v1h-5zM322 846h2v1h-2zM414 846h5v1h-5zM1138 846h2v1h-2zM800 855h3v1h-3zM1189 855h2v1h-2zM848 822h2v1h-2zM738 885h2v1h-2zM766 885h2v1h-2zM850 821h2v1h-2zM937 821h2v1h-2zM1006 821h2v1h-2zM725 860h2v1h-2zM1177 860h2v1h-2zM1198 860h2v1h-2zM1211 860h2v1h-2zM1253 860h2v1h-2zM1216 863h2v1h-2zM846 823h2v1h-2zM85 802h2v1h-2zM177 802h2v1h-2zM1263 850h2v1h-2zM744 888h3v1h-3zM760 888h2v1h-2zM773 888h4v1h-4zM736 884h2v1h-2zM747 889h2v1h-2zM755 889h5v1h-5zM139 817h2v1h-2zM149 817h4v1h-4zM196 817h2v1h-2zM199 817h2v1h-2zM608 817h3v1h-3zM621 817h2v1h-2zM913 817h2v1h-2zM998 817h2v1h-2zM1220 865h2v1h-2zM734 883h2v1h-2zM893 796h2v1h-2zM941 824h1v1h-1zM442 848h1v1h-1zM159 816h1v2h-1zM261 835h1v2h-1zM56 811h1v2h-1zM1028 826h1v3h-1zM482 831h1v1h-1zM546 833h1v2h-1zM953 834h1v3h-1zM854 819h1v1h-1zM538 839h1v1h-1zM727 862h1v3h-1zM1029 829h1v2h-1zM101 819h1v1h-1zM716 853h1v2h-1zM1210 859h1v1h-1zM18 820h1v2h-1zM250 817h1v1h-1zM1168 853h1v1h-1zM971 824h1v1h-1zM1232 874h1v1h-1zM960 842h1v3h-1zM186 809h1v2h-1zM450 837h1v2h-1zM1172 859h1v1h-1zM408 841h1v1h-1zM427 853h1v2h-1zM87 803h1v2h-1zM784 880h1v2h-1zM117 814h1v1h-1zM1256 858h1v1h-1zM1259 854h1v1h-1zM1051 834h1v1h-1zM1225 870h1v1h-1zM14 828h1v1h-1zM423 846h1v2h-1zM603 814h1v1h-1zM787 871h1v3h-1zM896 798h1v1h-1zM842 827h1v1h-1zM959 845h1v2h-1zM591 825h1v3h-1zM550 826h1v1h-1zM1240 864h1v1h-1zM249 816h1v1h-1zM1243 860h1v1h-1zM952 831h1v3h-1zM260 833h1v2h-1zM595 814h1v3h-1zM783 882h1v3h-1zM1074 840h1v1h-1zM792 861h1v2h-1zM795 858h1v1h-1zM858 816h1v1h-1zM1058 841h1v1h-1zM439 851h1v1h-1zM1171 857h1v2h-1zM1061 843h1v1h-1zM1072 842h1v2h-1zM1100 834h1v1h-1zM903 805h1v2h-1zM884 801h1v2h-1zM978 816h1v2h-1zM1050 833h1v1h-1zM830 839h1v1h-1zM393 838h1v1h-1zM715 851h1v2h-1zM1167 851h1v2h-1zM165 803h1v2h-1zM331 844h1v1h-1zM382 828h1v1h-1zM594 817h1v3h-1zM907 811h1v1h-1zM185 808h1v1h-1zM397 835h1v1h-1zM385 832h1v2h-1zM60 803h1v2h-1zM1224 869h1v1h-1zM158 818h1v1h-1zM1024 816h1v3h-1zM430 859h1v1h-1zM883 803h1v2h-1zM534 836h1v1h-1zM545 835h1v2h-1zM966 828h1v2h-1zM640 826h1v1h-1zM1206 856h1v1h-1zM162 809h1v3h-1zM822 848h1v1h-1zM229 819h1v1h-1zM1231 875h1v2h-1zM446 844h1v1h-1zM958 847h1v2h-1zM257 827h1v2h-1zM902 804h1v1h-1zM230 820h1v1h-1zM879 811h1v2h-1zM817 854h1v1h-1zM837 832h1v1h-1zM302 835h1v1h-1zM184 807h1v1h-1zM936 820h1v1h-1zM786 874h1v3h-1zM1270 845h1v1h-1zM602 812h1v2h-1zM55 813h1v2h-1zM453 832h1v2h-1zM308 842h1v1h-1zM1023 814h1v2h-1zM1274 842h1v1h-1zM426 852h1v1h-1zM309 843h1v1h-1zM639 825h1v1h-1zM1095 839h1v1h-1zM1057 840h1v1h-1zM730 871h1v2h-1zM1234 871h1v2h-1zM203 815h1v1h-1zM1030 831h1v1h-1zM1258 855h1v2h-1zM906 809h1v2h-1zM256 825h1v2h-1zM726 861h1v1h-1zM718 857h1v1h-1zM449 839h1v1h-1zM1027 824h1v2h-1zM1242 861h1v2h-1zM544 837h1v2h-1zM1223 867h1v2h-1zM1174 862h1v1h-1zM429 857h1v2h-1zM601 811h1v1h-1zM1226 871h1v2h-1zM96 815h1v1h-1zM732 876h1v3h-1zM441 849h1v1h-1zM161 812h1v2h-1zM1053 837h1v1h-1zM1227 873h1v1h-1zM841 828h1v1h-1zM590 828h1v1h-1zM1133 846h1v2h-1zM832 837h1v1h-1zM164 805h1v2h-1zM973 822h1v1h-1zM179 803h1v1h-1zM878 813h1v1h-1zM729 868h1v3h-1zM259 831h1v2h-1zM597 809h1v3h-1zM137 815h1v1h-1zM262 837h1v1h-1zM1159 840h1v2h-1zM951 829h1v2h-1zM962 837h1v3h-1zM138 816h1v1h-1zM452 834h1v2h-1zM252 819h1v1h-1zM905 808h1v1h-1zM882 805h1v2h-1zM714 848h1v3h-1zM717 855h1v2h-1zM1169 854h1v2h-1zM733 879h1v3h-1zM957 845h1v2h-1zM844 825h1v1h-1zM384 831h1v1h-1zM909 813h1v2h-1zM187 811h1v1h-1zM1245 858h1v1h-1zM19 818h1v2h-1zM425 850h1v2h-1zM824 846h1v1h-1zM605 816h1v2h-1zM428 855h1v2h-1zM1076 837h1v2h-1zM388 837h1v1h-1zM491 831h1v1h-1zM785 877h1v3h-1zM642 828h1v2h-1zM1102 832h1v1h-1zM897 799h1v1h-1zM1071 844h1v1h-1zM789 866h1v3h-1zM1237 867h1v2h-1zM486 828h1v1h-1zM432 857h1v1h-1zM643 830h1v1h-1zM258 829h1v2h-1zM1125 833h1v1h-1zM61 801h1v2h-1zM635 826h1v1h-1zM898 800h1v1h-1zM593 820h1v3h-1zM333 842h1v1h-1zM1261 852h1v1h-1zM1106 829h1v1h-1zM251 818h1v1h-1zM950 828h1v1h-1zM436 854h1v1h-1zM1265 849h1v1h-1zM836 833h1v1h-1zM326 848h1v1h-1zM1162 844h1v2h-1zM1026 821h1v3h-1zM555 829h1v1h-1zM387 835h1v2h-1zM956 842h1v3h-1zM160 814h1v2h-1zM1173 860h1v2h-1zM965 830h1v2h-1zM88 805h1v1h-1zM163 807h1v2h-1zM788 869h1v2h-1zM592 823h1v2h-1zM383 829h1v2h-1zM1052 835h1v2h-1zM424 848h1v2h-1zM623 818h1v2h-1zM604 815h1v1h-1zM1229 875h1v2h-1zM1022 812h1v1h-1zM1014 817h1v1h-1zM731 873h1v3h-1zM1230 877h1v1h-1zM699 832h1v1h-1zM1233 873h1v1h-1zM114 816h1v1h-1zM964 832h1v3h-1zM448 840h1v2h-1zM702 834h1v1h-1zM641 827h1v1h-1zM839 830h1v1h-1zM337 839h1v1h-1zM816 855h1v1h-1zM694 829h1v1h-1zM977 818h1v1h-1zM980 814h1v1h-1zM341 836h1v1h-1zM1241 863h1v1h-1zM908 812h1v1h-1zM1097 837h1v1h-1zM386 834h1v1h-1zM975 820h1v1h-1zM303 836h1v1h-1zM827 842h1v1h-1zM406 839h1v1h-1zM713 846h1v2h-1zM22 813h1v1h-1zM390 840h1v1h-1zM968 826h1v1h-1zM797 855h1v1h-1zM1077 836h1v1h-1zM1128 837h1v2h-1zM881 807h1v2h-1zM728 865h1v3h-1zM819 851h1v1h-1zM254 821h1v2h-1zM443 847h1v1h-1zM549 827h1v2h-1zM843 826h1v1h-1zM90 807h1v2h-1zM235 817h1v1h-1zM834 835h1v1h-1zM1054 838h1v1h-1zM91 809h1v1h-1zM1278 839h1v1h-1zM1025 819h1v2h-1zM963 835h1v2h-1zM394 837h1v1h-1zM972 823h1v1h-1zM712 844h1v2h-1zM189 813h1v1h-1zM1236 869h1v1h-1zM481 832h1v1h-1zM885 799h1v2h-1zM1131 842h1v2h-1zM431 858h1v1h-1zM644 831h1v1h-1zM1127 835h1v2h-1zM899 801h1v1h-1zM227 817h1v1h-1zM1160 842h1v1h-1zM826 843h1v2h-1zM645 832h1v1h-1zM900 802h1v1h-1zM1161 843h1v1h-1zM1244 859h1v1h-1zM1255 859h1v1h-1zM253 820h1v1h-1zM389 838h1v2h-1zM796 856h1v2h-1zM89 806h1v1h-1zM955 839h1v3h-1zM734 882h1v1h-1zM306 839h1v2h-1zM1239 865h1v1h-1zM17 822h1v2h-1zM1228 874h1v1h-1zM328 846h1v1h-1zM625 821h1v2h-1zM1195 858h1v1h-1zM791 863h1v1h-1zM166 802h1v1h-1zM1179 859h1v1h-1zM1129 839h1v2h-1zM438 852h1v1h-1zM626 823h1v1h-1zM332 843h1v1h-1zM709 839h1v1h-1zM857 817h1v1h-1zM629 827h1v2h-1zM838 831h1v1h-1zM1130 841h1v1h-1zM1099 835h1v1h-1zM829 840h1v1h-1zM59 805h1v2h-1zM412 844h1v1h-1zM1096 838h1v1h-1zM21 814h1v2h-1zM910 815h1v1h-1zM188 812h1v1h-1zM93 811h1v2h-1zM1047 829h1v1h-1zM782 885h1v1h-1zM711 842h1v2h-1zM1213 861h1v1h-1zM880 809h1v2h-1zM599 809h1v1h-1zM818 852h1v2h-1zM821 849h1v1h-1zM861 814h1v1h-1zM1073 841h1v1h-1zM445 845h1v1h-1zM548 829h1v2h-1zM411 843h1v1h-1zM979 815h1v1h-1zM845 824h1v1h-1zM1126 834h1v1h-1zM54 816h1v1h-1zM255 823h1v2h-1zM1269 846h1v1h-1zM974 821h1v1h-1zM1163 846h1v1h-1zM537 838h1v1h-1zM16 824h1v2h-1zM267 834h1v1h-1zM1164 847h1v1h-1zM967 827h1v1h-1zM833 836h1v1h-1zM1262 851h1v1h-1zM624 820h1v1h-1zM407 840h1v1h-1zM794 859h1v1h-1zM1132 844h1v2h-1zM305 838h1v1h-1zM1122 831h1v1h-1zM628 826h1v1h-1zM954 837h1v2h-1zM895 797h1v1h-1zM248 815h1v1h-1zM940 823h1v1h-1zM1273 843h1v1h-1zM1209 858h1v1h-1zM790 864h1v2h-1zM1277 840h1v1h-1zM440 850h1v1h-1zM304 837h1v1h-1zM1121 830h1v1h-1zM1049 832h1v1h-1zM1235 870h1v1h-1zM598 807h1v1h-1zM1266 848h1v1h-1zM1238 866h1v1h-1zM327 847h1v1h-1zM92 810h1v1h-1zM58 807h1v2h-1zM961 840h1v2h-1zM627 824h1v2h-1zM710 840h1v2h-1zM939 822h1v1h-1zM198 818h1v1h-1zM543 839h1v2h-1zM1257 857h1v1h-1zM20 816h1v2h-1zM825 845h1v1h-1zM828 841h1v1h-1zM1019 814h1v1h-1zM99 817h1v1h-1zM100 818h1v1h-1zM403 837h1v1h-1zM1166 850h1v1h-1zM1075 839h1v1h-1zM334 841h1v1h-1zM691 831h1v1h-1zM840 829h1v1h-1zM1170 856h1v1h-1zM1101 833h1v1h-1zM398 834h1v1h-1zM437 853h1v1h-1zM935 819h1v1h-1zM547 831h1v2h-1zM338 838h1v1h-1zM831 838h1v1h-1zM307 841h1v1h-1zM1260 853h1v1h-1zM247 814h1v1h-1zM15 826h1v2h-1zM435 855h1v1h-1zM1098 836h1v1h-1zM228 818h1v1h-1zM901 803h1v1h-1zM1048 830h1v2h-1zM1165 848h1v2h-1zM182 805h1v1h-1zM57 809h1v2h-1zM183 806h1v1h-1zM447 842h1v2h-1zM820 850h1v1h-1zM141 818h1v1h-1zM981 813h1v1h-1zM596 812h1v2h-1zM542 842h1v1h-1zM1105 830h1v1h-1zM444 846h1v1h-1zM94 813h1v1h-1zM793 860h1v1h-1zM1222 866h1v1h-1zM1109 827h1v1h-1zM638 824h1v1h-1zM95 814h1v1h-1zM485 829h1v1h-1zM815 856h1v1h-1zM630 829h1v1h-1zM451 836h1v1h-1zM976 819h1v1h-1zM224 815h1v1h-1zM915 818h1v1h-1zM413 845h1v1h-1zM823 847h1v1h-1zM705 836h1v1h-1zM904 807h1v1h-1zM223 814h1v1h-1zM600 810h1v1h-1zM706 837h1v1h-1zM113 817h1v1h-1zM835 834h1v1h-1z" fill="#1e90ff"/>
<rect x="1618" y="47" width="2" height="1" fill="#000"/>
<rect x="1618" y="80" width="2" height="1" fill="#000"/>
<rect x="1618" y="113" width="2" height="1" fill="#000"/>
<rect x="1618" y="146" width="2" height="1" fill="#000"/>
<rect x="1618" y="180" width="2" height="1" fill="#000"/>
<rect x="1618" y="213" width="2" height="1" fill="#000"/>
<rect x="1618" y="246" width="2" height="1" fill="#000"/>
<rect x="1618" y="279" width="2" height="1" fill="#000"/>
<rect x="1618" y="312" width="2" height="1" fill="#000"/>
<rect x="1618" y="345" width="2" height="1" fill="#000"/>
<rect x="1618" y="378" width="2" height="1" fill="#000"/>
<rect x="1618" y="411" width="2" height="1" fill="#000"/>
<rect x="1618" y="444" width="2" height="1" fill="#000"/>
<rect x="1618" y="477" width="2" height="1" fill="#000"/>
<rect x="1618" y="510" width="2" height="1" fill="#000"/>
<rect x="1618" y="543" width="2" height="1" fill="#000"/>
<rect x="1618" y="576" width="2" height="1" fill="#000"/>
<rect x="1618" y="583" width="1" height="1" fill="#000"/>
<rect x="1618" y="684" width="1" height="1" fill="#000"/>
<rect x="1618" y="750" width="1" height="1" fill="#000"/>
<rect x="1618" y="755" width="1" height="1" fill="#000"/>
<rect x="1618" y="927" width="1" height="1" fill="#000"/>
<rect x="62" y="928" width="1" height="3" fill="#000"/>
<rect x="126" y="928" width="1" height="3" fill="#000"/>
<rect x="190" y="928" width="1" height="3" fill="#000"/>
<rect x="254" y="928" width="1" height="3" fill="#000"/>
<rect x="318" y="928" width="1" height="3" fill="#000"/>
<rect x="382" y="928" width="1" height="3" fill="#000"/>
<rect x="446" y="928" width="1" height="3" fill="#000"/>
<rect x="510" y="928" width="1" height="3" fill="#000"/>
<rect x="574" y="928" width="1" height="3" fill="#000"/>
<rect x="638" y="928" width="1" height="3" fill="#000"/>
<rect x="702" y="928" width="1" height="3" fill="#000"/>
<rect x="766" y="928" width="1" height="3" fill="#000"/>
<rect x="830" y="928" width="1" height="3" fill="#000"/>
<rect x="894" y="928" width="1" height="3" fill="#000"/>
<rect x="958" y="928" width="1" height="3" fill="#000"/>
<rect x="1022" y="928" width="1" height="3" fill="#000"/>
<rect x="1086" y="928" width="1" height="3" fill="#000"/>
<rect x="1150" y="928" width="1" height="3" fill="#000"/>
<rect x="1214" y="928" width="1" height="3" fill="#000"/>
<rect x="1278" y="928" width="1" height="3" fill="#000"/>
<polygon points="1,37 8,37 4.5,32" fill="#000"/>
<rect x="1479" y="230" width="8" height="1" fill="#ff0000"/>
<rect x="1486" y="228" width="3" height="5" fill="#ff0000"/>
<rect x="1487" y="229" width="1" height="3" fill="#fff"/>
<rect x="1489.5" y="218.5" width="73" height="24" fill="#fff" stroke="#ff0000" stroke-width="1"/>
<rect x="1619" y="100" width="41" height="11" fill="#ff0000"/><text transform="translate(1623.3,109.1) scale(0.94,1)" fill="#fff" stroke="#fff" stroke-width="0.15" font-size="9.6" text-anchor="start" font-weight="normal" >109.242</text><rect x="1619" y="148" width="41" height="11" fill="#ff0000"/><text transform="translate(1623.3,157.1) scale(0.94,1)" fill="#fff" stroke="#fff" stroke-width="0.15" font-size="9.6" text-anchor="start" font-weight="normal" >109.025</text><rect x="1619" y="194" width="41" height="11" fill="#000"/><text transform="translate(1623.3,203.1) scale(0.94,1)" fill="#fff" stroke="#fff" stroke-width="0.15" font-size="9.6" text-anchor="start" font-weight="normal" >108.820</text><rect x="1619" y="224" width="41" height="11" fill="#32cd32"/><text transform="translate(1623.3,233.1) scale(0.94,1)" fill="#fff" stroke="#fff" stroke-width="0.15" font-size="9.6" text-anchor="start" font-weight="normal" >108.681</text><rect x="1619" y="263" width="41" height="11" fill="#0000ff"/><text transform="translate(1623.3,272.1) scale(0.94,1)" fill="#fff" stroke="#fff" stroke-width="0.15" font-size="9.6" text-anchor="start" font-weight="normal" >108.504</text><rect x="1619" y="299" width="41" height="11" fill="#0000ff"/><text transform="translate(1623.3,308.1) scale(0.94,1)" fill="#fff" stroke="#fff" stroke-width="0.15" font-size="9.6" text-anchor="start" font-weight="normal" >108.341</text></g><g font-family="'Liberation Sans',sans-serif"><text transform="translate(1623.3,50.8) scale(0.96,1)" fill="#000" stroke="#000" stroke-width="0.15" font-size="9.6" text-anchor="start" font-weight="normal" >109.510</text>
<text transform="translate(1623.3,83.8) scale(0.96,1)" fill="#000" stroke="#000" stroke-width="0.15" font-size="9.6" text-anchor="start" font-weight="normal" >109.360</text>
<text transform="translate(1623.3,116.8) scale(0.96,1)" fill="#000" stroke="#000" stroke-width="0.15" font-size="9.6" text-anchor="start" font-weight="normal" >109.210</text>
<text transform="translate(1623.3,149.8) scale(0.96,1)" fill="#000" stroke="#000" stroke-width="0.15" font-size="9.6" text-anchor="start" font-weight="normal" >109.060</text>
<text transform="translate(1623.3,183.8) scale(0.96,1)" fill="#000" stroke="#000" stroke-width="0.15" font-size="9.6" text-anchor="start" font-weight="normal" >108.910</text>
<text transform="translate(1623.3,216.8) scale(0.96,1)" fill="#000" stroke="#000" stroke-width="0.15" font-size="9.6" text-anchor="start" font-weight="normal" >108.760</text>
<text transform="translate(1623.3,249.8) scale(0.96,1)" fill="#000" stroke="#000" stroke-width="0.15" font-size="9.6" text-anchor="start" font-weight="normal" >108.610</text>
<text transform="translate(1623.3,282.8) scale(0.96,1)" fill="#000" stroke="#000" stroke-width="0.15" font-size="9.6" text-anchor="start" font-weight="normal" >108.460</text>
<text transform="translate(1623.3,315.8) scale(0.96,1)" fill="#000" stroke="#000" stroke-width="0.15" font-size="9.6" text-anchor="start" font-weight="normal" >108.310</text>
<text transform="translate(1623.3,348.8) scale(0.96,1)" fill="#000" stroke="#000" stroke-width="0.15" font-size="9.6" text-anchor="start" font-weight="normal" >108.160</text>
<text transform="translate(1623.3,381.8) scale(0.96,1)" fill="#000" stroke="#000" stroke-width="0.15" font-size="9.6" text-anchor="start" font-weight="normal" >108.010</text>
<text transform="translate(1623.3,414.8) scale(0.96,1)" fill="#000" stroke="#000" stroke-width="0.15" font-size="9.6" text-anchor="start" font-weight="normal" >107.860</text>
<text transform="translate(1623.3,447.8) scale(0.96,1)" fill="#000" stroke="#000" stroke-width="0.15" font-size="9.6" text-anchor="start" font-weight="normal" >107.710</text>
<text transform="translate(1623.3,480.8) scale(0.96,1)" fill="#000" stroke="#000" stroke-width="0.15" font-size="9.6" text-anchor="start" font-weight="normal" >107.560</text>
<text transform="translate(1623.3,513.8) scale(0.96,1)" fill="#000" stroke="#000" stroke-width="0.15" font-size="9.6" text-anchor="start" font-weight="normal" >107.410</text>
<text transform="translate(1623.3,546.8) scale(0.96,1)" fill="#000" stroke="#000" stroke-width="0.15" font-size="9.6" text-anchor="start" font-weight="normal" >107.260</text>
<text transform="translate(1623.3,579.8) scale(0.96,1)" fill="#000" stroke="#000" stroke-width="0.15" font-size="9.6" text-anchor="start" font-weight="normal" >107.110</text>
<text transform="translate(1621,592) scale(0.96,1)" fill="#000" stroke="#000" stroke-width="0.15" font-size="9.6" text-anchor="start" font-weight="normal" >0.3574</text>
<text transform="translate(1621,687.5) scale(0.96,1)" fill="#000" stroke="#000" stroke-width="0.15" font-size="9.6" text-anchor="start" font-weight="normal" >0.00</text>
<text transform="translate(1621,748.2) scale(0.96,1)" fill="#000" stroke="#000" stroke-width="0.15" font-size="9.6" text-anchor="start" font-weight="normal" >-0.2354</text>
<text transform="translate(1621,764) scale(0.96,1)" fill="#000" stroke="#000" stroke-width="0.15" font-size="9.6" text-anchor="start" font-weight="normal" >100</text>
<text transform="translate(1620,792.6) scale(0.96,1)" fill="#000" stroke="#000" stroke-width="0.15" font-size="9.6" text-anchor="start" font-weight="normal" >80</text>
<text transform="translate(1620,843.6) scale(0.96,1)" fill="#000" stroke="#000" stroke-width="0.15" font-size="9.6" text-anchor="start" font-weight="normal" >50</text>
<text transform="translate(1620,904.6) scale(0.96,1)" fill="#000" stroke="#000" stroke-width="0.15" font-size="9.6" text-anchor="start" font-weight="normal" >15</text>
<text transform="translate(1621.3,923.3) scale(0.96,1)" fill="#000" stroke="#000" stroke-width="0.15" font-size="9.6" text-anchor="start" font-weight="normal" >0</text>
<text transform="translate(-3,940) scale(0.995,1)" fill="#000" stroke="#000" stroke-width="0.15" font-size="9.6" text-anchor="start" font-weight="normal" >10 Oct 2019</text>
<text transform="translate(61,940) scale(0.995,1)" fill="#000" stroke="#000" stroke-width="0.15" font-size="9.6" text-anchor="start" font-weight="normal" >11 Oct 08:00</text>
<text transform="translate(125,940) scale(0.995,1)" fill="#000" stroke="#000" stroke-width="0.15" font-size="9.6" text-anchor="start" font-weight="normal" >14 Oct 16:00</text>
<text transform="translate(189,940) scale(0.995,1)" fill="#000" stroke="#000" stroke-width="0.15" font-size="9.6" text-anchor="start" font-weight="normal" >16 Oct 00:00</text>
<text transform="translate(253,940) scale(0.995,1)" fill="#000" stroke="#000" stroke-width="0.15" font-size="9.6" text-anchor="start" font-weight="normal" >17 Oct 08:00</text>
<text transform="translate(317,940) scale(0.995,1)" fill="#000" stroke="#000" stroke-width="0.15" font-size="9.6" text-anchor="start" font-weight="normal" >18 Oct 16:00</text>
<text transform="translate(381,940) scale(0.995,1)" fill="#000" stroke="#000" stroke-width="0.15" font-size="9.6" text-anchor="start" font-weight="normal" >22 Oct 00:00</text>
<text transform="translate(445,940) scale(0.995,1)" fill="#000" stroke="#000" stroke-width="0.15" font-size="9.6" text-anchor="start" font-weight="normal" >23 Oct 08:00</text>
<text transform="translate(509,940) scale(0.995,1)" fill="#000" stroke="#000" stroke-width="0.15" font-size="9.6" text-anchor="start" font-weight="normal" >24 Oct 16:00</text>
<text transform="translate(573,940) scale(0.995,1)" fill="#000" stroke="#000" stroke-width="0.15" font-size="9.6" text-anchor="start" font-weight="normal" >28 Oct 00:00</text>
<text transform="translate(637,940) scale(0.995,1)" fill="#000" stroke="#000" stroke-width="0.15" font-size="9.6" text-anchor="start" font-weight="normal" >29 Oct 08:00</text>
<text transform="translate(701,940) scale(0.995,1)" fill="#000" stroke="#000" stroke-width="0.15" font-size="9.6" text-anchor="start" font-weight="normal" >30 Oct 16:00</text>
<text transform="translate(765,940) scale(0.995,1)" fill="#000" stroke="#000" stroke-width="0.15" font-size="9.6" text-anchor="start" font-weight="normal" >1 Nov 00:00</text>
<text transform="translate(829,940) scale(0.995,1)" fill="#000" stroke="#000" stroke-width="0.15" font-size="9.6" text-anchor="start" font-weight="normal" >4 Nov 08:00</text>
<text transform="translate(893,940) scale(0.995,1)" fill="#000" stroke="#000" stroke-width="0.15" font-size="9.6" text-anchor="start" font-weight="normal" >5 Nov 16:00</text>
<text transform="translate(957,940) scale(0.995,1)" fill="#000" stroke="#000" stroke-width="0.15" font-size="9.6" text-anchor="start" font-weight="normal" >7 Nov 00:00</text>
<text transform="translate(1021,940) scale(0.995,1)" fill="#000" stroke="#000" stroke-width="0.15" font-size="9.6" text-anchor="start" font-weight="normal" >8 Nov 08:00</text>
<text transform="translate(1085,940) scale(0.995,1)" fill="#000" stroke="#000" stroke-width="0.15" font-size="9.6" text-anchor="start" font-weight="normal" >11 Nov 16:00</text>
<text transform="translate(1149,940) scale(0.995,1)" fill="#000" stroke="#000" stroke-width="0.15" font-size="9.6" text-anchor="start" font-weight="normal" >13 Nov 00:00</text>
<text transform="translate(1213,940) scale(0.995,1)" fill="#000" stroke="#000" stroke-width="0.15" font-size="9.6" text-anchor="start" font-weight="normal" >14 Nov 08:00</text>
<text transform="translate(1277,940) scale(0.995,1)" fill="#000" stroke="#000" stroke-width="0.15" font-size="9.6" text-anchor="start" font-weight="normal" >15 Nov 16:00</text>
<text transform="translate(13,37.6) scale(0.995,1)" fill="#000" stroke="#000" stroke-width="0.15" font-size="9.6" text-anchor="start" font-weight="normal" >USDJPY-,H4</text>
<text transform="translate(73.3,37.6) scale(0.96,1)" fill="#000" stroke="#000" stroke-width="0.15" font-size="9.6" text-anchor="start" font-weight="normal" word-spacing="0.1">108.718 108.847 108.718 108.820</text>
<text transform="translate(2.7,594) scale(0.98,1)" fill="#000" stroke="#000" stroke-width="0.15" font-size="9.6" text-anchor="start" font-weight="normal" >MACD(12,26,9) -0.0906 -0.1149</text>
<text transform="translate(2.5,766) scale(0.97,1)" fill="#000" stroke="#000" stroke-width="0.15" font-size="9.6" text-anchor="start" font-weight="normal" >RSI(14) 51.5858</text>
<text transform="translate(1490.8,238.6) scale(0.9,1)" fill="#ff0000" stroke="#ff0000" stroke-width="0.55" font-size="21.8" text-anchor="start" font-weight="normal" >108.681</text>
<text x="940.1" y="261" fill="#001030" font-size="30" letter-spacing="3.2" font-weight="600" font-family="'Liberation Serif','Noto Serif CJK SC',serif">多空转折点</text>
<text x="939.2" y="260.1" fill="#00ff00" font-size="30" letter-spacing="3.2" font-weight="600" font-family="'Liberation Serif','Noto Serif CJK SC',serif">多空转折点</text></g></svg>
<div class="oc">
<div class="tab" style="left:1px;width:52px"></div>
<div class="tab" style="left:168px;width:52px"></div>
<div class="big" style="left:1px;width:109px"></div>
<div class="big" style="left:112px;width:108px"></div>
<div class="ul0" style="left:5px;width:44px"></div><div class="ul" style="left:5px;width:44px"></div>
<div class="ul0" style="left:172px;width:44px"></div><div class="ul" style="left:172px;width:44px"></div>
<span class="lbl" style="left:13.5px">SELL</span><span class="lbl" style="left:181.5px;letter-spacing:0.2px">BUY</span>
<span class="s108" style="left:24.5px">108</span><span class="big2" style="left:49px">82</span><span class="sup" style="left:88px">0</span>
<span class="s108" style="left:134.5px">108</span><span class="big2" style="left:159px">83</span><span class="sup" style="left:198.5px">7</span>
<div class="spin"><div class="btn" style="left:0px"></div><div class="btn" style="right:0px"></div><span class="vol">1.00</span>
<svg style="position:absolute;left:0;top:0" width="110" height="20"><polygon points="7.5,8.5 13.5,8.5 10.5,11.5" fill="#4a6ab0"/><polygon points="95.5,11 101.5,11 98.5,8" fill="#4a6ab0"/></svg></div>
</div>
</body></html>
